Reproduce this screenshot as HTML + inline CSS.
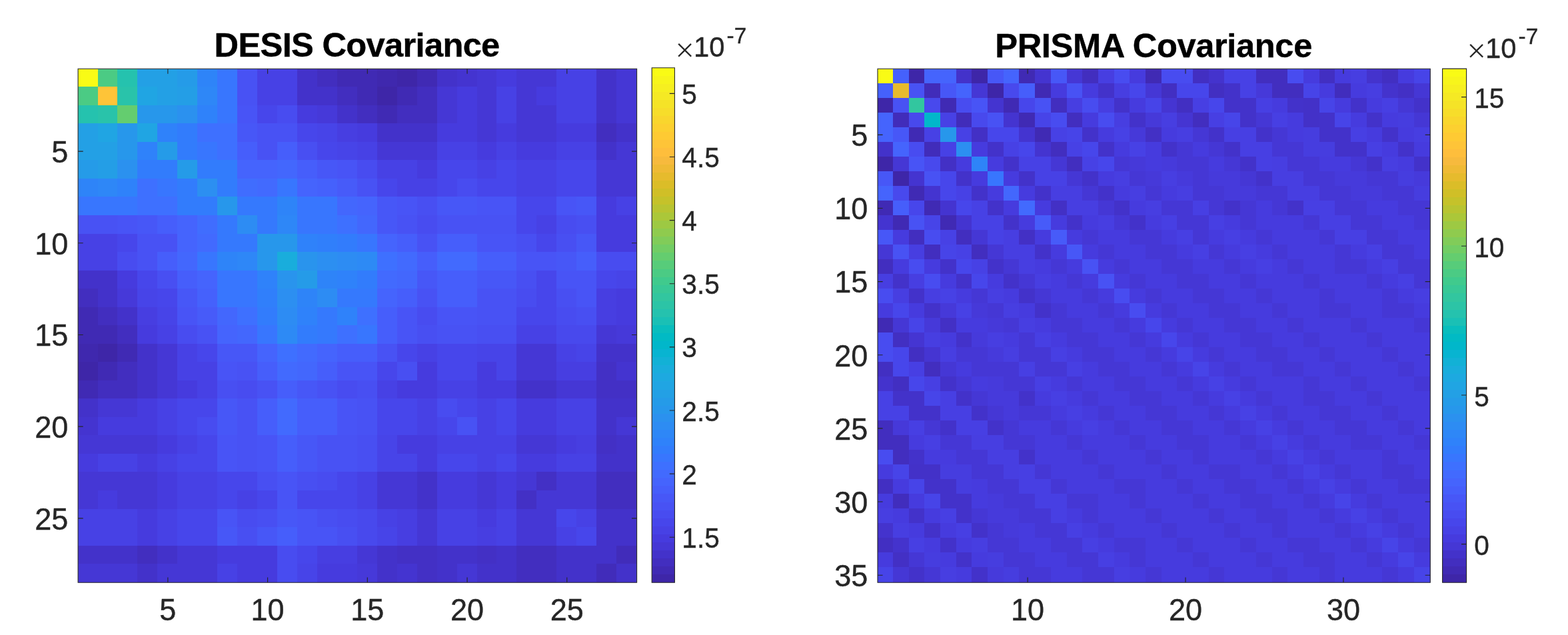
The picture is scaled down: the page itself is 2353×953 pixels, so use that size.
<!DOCTYPE html>
<html lang="en"><head><meta charset="utf-8"><title>Covariance</title>
<style>
html,body{margin:0;padding:0;background:#fff;}
body{width:2353px;height:953px;overflow:hidden;}
svg{display:block;}
text{font-family:"Liberation Sans",sans-serif;fill:#262626;stroke:#262626;stroke-width:0.4px;}
.t{font-size:46.4px;}
.c{font-size:41.8px;}
.x{font-size:50.16px;stroke:#fff;stroke-width:1.2px;}
.tt{font-size:50.7px;font-weight:bold;fill:#000;stroke:#000;}
.e{font-size:33.44px;}
.l{stroke:#262626;stroke-width:1.1;fill:none;}
</style></head><body>
<svg width="2353" height="953" viewBox="0 0 2353 953">
<g>
<rect x="117.1" y="103.2" width="29.9" height="26.8" fill="#f9fb15"/><rect x="147" y="103.2" width="29" height="26.8" fill="#4bcb84"/><rect x="176" y="103.2" width="30" height="26.8" fill="#25c2ae"/><rect x="206" y="103.2" width="60" height="26.8" fill="#23a0e5"/><rect x="266" y="103.2" width="30" height="26.8" fill="#259be8"/><rect x="296" y="103.2" width="30" height="26.8" fill="#2e84f8"/><rect x="326" y="103.2" width="30" height="26.8" fill="#3876fe"/><rect x="356" y="103.2" width="30" height="26.8" fill="#4852f4"/><rect x="386" y="103.2" width="60" height="26.8" fill="#4741e5"/><rect x="446" y="103.2" width="30" height="26.8" fill="#4332ca"/><rect x="476" y="103.2" width="30" height="26.8" fill="#422ebf"/><rect x="506" y="103.2" width="60" height="26.8" fill="#402ab4"/><rect x="566" y="103.2" width="30" height="26.8" fill="#3f28ae"/><rect x="596" y="103.2" width="30" height="26.8" fill="#3e26a8"/><rect x="626" y="103.2" width="30" height="26.8" fill="#402ab4"/><rect x="656" y="103.2" width="30" height="26.8" fill="#4332ca"/><rect x="686" y="103.2" width="30" height="26.8" fill="#4434d0"/><rect x="716" y="103.2" width="29" height="26.8" fill="#4537d5"/><rect x="745" y="103.2" width="30" height="26.8" fill="#463bde"/><rect x="775" y="103.2" width="60" height="26.8" fill="#4537d5"/><rect x="835" y="103.2" width="60" height="26.8" fill="#4741e5"/><rect x="895" y="103.2" width="30" height="26.8" fill="#4332ca"/><rect x="925" y="103.2" width="30.6" height="26.8" fill="#4537d5"/>
<rect x="117.1" y="130" width="29.9" height="28" fill="#4bcb84"/><rect x="147" y="130" width="29" height="28" fill="#fec438"/><rect x="176" y="130" width="30" height="28" fill="#29c3aa"/><rect x="206" y="130" width="30" height="28" fill="#20a5e3"/><rect x="236" y="130" width="30" height="28" fill="#23a0e5"/><rect x="266" y="130" width="30" height="28" fill="#249ee6"/><rect x="296" y="130" width="30" height="28" fill="#2e87f7"/><rect x="326" y="130" width="30" height="28" fill="#3876fe"/><rect x="356" y="130" width="30" height="28" fill="#4852f4"/><rect x="386" y="130" width="60" height="28" fill="#4741e5"/><rect x="446" y="130" width="60" height="28" fill="#4332ca"/><rect x="506" y="130" width="30" height="28" fill="#422ebf"/><rect x="536" y="130" width="30" height="28" fill="#402ab4"/><rect x="566" y="130" width="30" height="28" fill="#3e26a8"/><rect x="596" y="130" width="30" height="28" fill="#402ab4"/><rect x="626" y="130" width="30" height="28" fill="#422ebf"/><rect x="656" y="130" width="30" height="28" fill="#4537d5"/><rect x="686" y="130" width="30" height="28" fill="#463bde"/><rect x="716" y="130" width="29" height="28" fill="#4537d5"/><rect x="745" y="130" width="30" height="28" fill="#4741e5"/><rect x="775" y="130" width="30" height="28" fill="#4537d5"/><rect x="805" y="130" width="30" height="28" fill="#463bde"/><rect x="835" y="130" width="60" height="28" fill="#4741e5"/><rect x="895" y="130" width="30" height="28" fill="#4332ca"/><rect x="925" y="130" width="30.6" height="28" fill="#4537d5"/>
<rect x="117.1" y="158" width="29.9" height="27" fill="#25c2ae"/><rect x="147" y="158" width="29" height="27" fill="#29c3aa"/><rect x="176" y="158" width="30" height="27" fill="#64cd6f"/><rect x="206" y="158" width="60" height="27" fill="#2797eb"/><rect x="266" y="158" width="30" height="27" fill="#2b91ef"/><rect x="296" y="158" width="30" height="27" fill="#2f82fa"/><rect x="326" y="158" width="30" height="27" fill="#3876fe"/><rect x="356" y="158" width="30" height="27" fill="#4854f6"/><rect x="386" y="158" width="30" height="27" fill="#4746eb"/><rect x="416" y="158" width="30" height="27" fill="#484cf0"/><rect x="446" y="158" width="30" height="27" fill="#463bde"/><rect x="476" y="158" width="30" height="27" fill="#4639d9"/><rect x="506" y="158" width="30" height="27" fill="#4332ca"/><rect x="536" y="158" width="30" height="27" fill="#422ebf"/><rect x="566" y="158" width="30" height="27" fill="#402ab4"/><rect x="596" y="158" width="60" height="27" fill="#422ebf"/><rect x="656" y="158" width="30" height="27" fill="#4537d5"/><rect x="686" y="158" width="30" height="27" fill="#463bde"/><rect x="716" y="158" width="29" height="27" fill="#4537d5"/><rect x="745" y="158" width="30" height="27" fill="#4741e5"/><rect x="775" y="158" width="60" height="27" fill="#4537d5"/><rect x="835" y="158" width="60" height="27" fill="#4741e5"/><rect x="895" y="158" width="30" height="27" fill="#4332ca"/><rect x="925" y="158" width="30.6" height="27" fill="#4537d5"/>
<rect x="117.1" y="185" width="29.9" height="28" fill="#23a0e5"/><rect x="147" y="185" width="29" height="28" fill="#20a5e3"/><rect x="176" y="185" width="30" height="28" fill="#2797eb"/><rect x="206" y="185" width="30" height="28" fill="#20a5e3"/><rect x="236" y="185" width="30" height="28" fill="#2f82fa"/><rect x="266" y="185" width="30" height="28" fill="#327cfc"/><rect x="296" y="185" width="60" height="28" fill="#3e70ff"/><rect x="356" y="185" width="30" height="28" fill="#4757f7"/><rect x="386" y="185" width="60" height="28" fill="#4852f4"/><rect x="446" y="185" width="30" height="28" fill="#4746eb"/><rect x="476" y="185" width="30" height="28" fill="#4744e8"/><rect x="506" y="185" width="30" height="28" fill="#473ee1"/><rect x="536" y="185" width="30" height="28" fill="#463bde"/><rect x="566" y="185" width="90" height="28" fill="#4332ca"/><rect x="656" y="185" width="60" height="28" fill="#463bde"/><rect x="716" y="185" width="29" height="28" fill="#4537d5"/><rect x="745" y="185" width="30" height="28" fill="#463bde"/><rect x="775" y="185" width="60" height="28" fill="#4537d5"/><rect x="835" y="185" width="60" height="28" fill="#463bde"/><rect x="895" y="185" width="30" height="28" fill="#422ebf"/><rect x="925" y="185" width="30.6" height="28" fill="#4332ca"/>
<rect x="117.1" y="213" width="58.9" height="27" fill="#23a0e5"/><rect x="176" y="213" width="30" height="27" fill="#2797eb"/><rect x="206" y="213" width="30" height="27" fill="#2f82fa"/><rect x="236" y="213" width="30" height="27" fill="#259be8"/><rect x="266" y="213" width="30" height="27" fill="#327cfc"/><rect x="296" y="213" width="30" height="27" fill="#3876fe"/><rect x="326" y="213" width="30" height="27" fill="#3e70ff"/><rect x="356" y="213" width="30" height="27" fill="#465efb"/><rect x="386" y="213" width="30" height="27" fill="#4852f4"/><rect x="416" y="213" width="30" height="27" fill="#465efb"/><rect x="446" y="213" width="30" height="27" fill="#484ff2"/><rect x="476" y="213" width="30" height="27" fill="#4746eb"/><rect x="506" y="213" width="30" height="27" fill="#4744e8"/><rect x="536" y="213" width="30" height="27" fill="#4741e5"/><rect x="566" y="213" width="90" height="27" fill="#4537d5"/><rect x="656" y="213" width="60" height="27" fill="#4741e5"/><rect x="716" y="213" width="29" height="27" fill="#463bde"/><rect x="745" y="213" width="30" height="27" fill="#4741e5"/><rect x="775" y="213" width="60" height="27" fill="#463bde"/><rect x="835" y="213" width="60" height="27" fill="#4741e5"/><rect x="895" y="213" width="30" height="27" fill="#4332ca"/><rect x="925" y="213" width="30.6" height="27" fill="#4537d5"/>
<rect x="117.1" y="240" width="29.9" height="28" fill="#259be8"/><rect x="147" y="240" width="29" height="28" fill="#249ee6"/><rect x="176" y="240" width="30" height="28" fill="#2b91ef"/><rect x="206" y="240" width="60" height="28" fill="#327cfc"/><rect x="266" y="240" width="30" height="28" fill="#259be8"/><rect x="296" y="240" width="60" height="28" fill="#327cfc"/><rect x="356" y="240" width="60" height="28" fill="#4564fd"/><rect x="416" y="240" width="30" height="28" fill="#4367fd"/><rect x="446" y="240" width="30" height="28" fill="#465efb"/><rect x="476" y="240" width="30" height="28" fill="#4757f7"/><rect x="506" y="240" width="30" height="28" fill="#4854f6"/><rect x="536" y="240" width="30" height="28" fill="#484cf0"/><rect x="566" y="240" width="60" height="28" fill="#4741e5"/><rect x="626" y="240" width="30" height="28" fill="#463bde"/><rect x="656" y="240" width="60" height="28" fill="#4746eb"/><rect x="716" y="240" width="29" height="28" fill="#4741e5"/><rect x="745" y="240" width="30" height="28" fill="#4746eb"/><rect x="775" y="240" width="60" height="28" fill="#4741e5"/><rect x="835" y="240" width="60" height="28" fill="#4746eb"/><rect x="895" y="240" width="60.6" height="28" fill="#4537d5"/>
<rect x="117.1" y="268" width="29.9" height="27" fill="#2e84f8"/><rect x="147" y="268" width="29" height="27" fill="#2e87f7"/><rect x="176" y="268" width="30" height="27" fill="#2f82fa"/><rect x="206" y="268" width="30" height="27" fill="#3e70ff"/><rect x="236" y="268" width="30" height="27" fill="#3876fe"/><rect x="266" y="268" width="30" height="27" fill="#327cfc"/><rect x="296" y="268" width="30" height="27" fill="#2c8ff1"/><rect x="326" y="268" width="30" height="27" fill="#327cfc"/><rect x="356" y="268" width="30" height="27" fill="#406dfe"/><rect x="386" y="268" width="30" height="27" fill="#426afe"/><rect x="416" y="268" width="30" height="27" fill="#3876fe"/><rect x="446" y="268" width="30" height="27" fill="#4564fd"/><rect x="476" y="268" width="30" height="27" fill="#4561fc"/><rect x="506" y="268" width="30" height="27" fill="#475bf9"/><rect x="536" y="268" width="30" height="27" fill="#4852f4"/><rect x="566" y="268" width="30" height="27" fill="#4746eb"/><rect x="596" y="268" width="60" height="27" fill="#4741e5"/><rect x="656" y="268" width="30" height="27" fill="#4746eb"/><rect x="686" y="268" width="30" height="27" fill="#484cf0"/><rect x="716" y="268" width="59" height="27" fill="#4746eb"/><rect x="775" y="268" width="60" height="27" fill="#4741e5"/><rect x="835" y="268" width="60" height="27" fill="#4746eb"/><rect x="895" y="268" width="60.6" height="27" fill="#4537d5"/>
<rect x="117.1" y="295" width="88.9" height="28" fill="#3876fe"/><rect x="206" y="295" width="60" height="28" fill="#3e70ff"/><rect x="266" y="295" width="60" height="28" fill="#327cfc"/><rect x="326" y="295" width="30" height="28" fill="#2797eb"/><rect x="356" y="295" width="60" height="28" fill="#3579fd"/><rect x="416" y="295" width="30" height="28" fill="#2e84f8"/><rect x="446" y="295" width="60" height="28" fill="#3876fe"/><rect x="506" y="295" width="30" height="28" fill="#4367fd"/><rect x="536" y="295" width="30" height="28" fill="#4564fd"/><rect x="566" y="295" width="30" height="28" fill="#4757f7"/><rect x="596" y="295" width="30" height="28" fill="#4854f6"/><rect x="626" y="295" width="30" height="28" fill="#484ff2"/><rect x="656" y="295" width="60" height="28" fill="#4757f7"/><rect x="716" y="295" width="59" height="28" fill="#4854f6"/><rect x="775" y="295" width="60" height="28" fill="#4746eb"/><rect x="835" y="295" width="30" height="28" fill="#4854f6"/><rect x="865" y="295" width="30" height="28" fill="#4757f7"/><rect x="895" y="295" width="30" height="28" fill="#463bde"/><rect x="925" y="295" width="30.6" height="28" fill="#4741e5"/>
<rect x="117.1" y="323" width="58.9" height="28" fill="#4852f4"/><rect x="176" y="323" width="30" height="28" fill="#4854f6"/><rect x="206" y="323" width="30" height="28" fill="#4757f7"/><rect x="236" y="323" width="30" height="28" fill="#465efb"/><rect x="266" y="323" width="30" height="28" fill="#4564fd"/><rect x="296" y="323" width="30" height="28" fill="#406dfe"/><rect x="326" y="323" width="30" height="28" fill="#3579fd"/><rect x="356" y="323" width="30" height="28" fill="#2d8cf3"/><rect x="386" y="323" width="30" height="28" fill="#3579fd"/><rect x="416" y="323" width="30" height="28" fill="#2e87f7"/><rect x="446" y="323" width="60" height="28" fill="#3876fe"/><rect x="506" y="323" width="30" height="28" fill="#3e70ff"/><rect x="536" y="323" width="30" height="28" fill="#4367fd"/><rect x="566" y="323" width="30" height="28" fill="#4757f7"/><rect x="596" y="323" width="30" height="28" fill="#4852f4"/><rect x="626" y="323" width="30" height="28" fill="#484cf0"/><rect x="656" y="323" width="119" height="28" fill="#4852f4"/><rect x="775" y="323" width="30" height="28" fill="#4746eb"/><rect x="805" y="323" width="30" height="28" fill="#4741e5"/><rect x="835" y="323" width="30" height="28" fill="#484cf0"/><rect x="865" y="323" width="30" height="28" fill="#484ff2"/><rect x="895" y="323" width="60.6" height="28" fill="#463bde"/>
<rect x="117.1" y="351" width="58.9" height="27" fill="#4741e5"/><rect x="176" y="351" width="30" height="27" fill="#4746eb"/><rect x="206" y="351" width="60" height="27" fill="#4852f4"/><rect x="266" y="351" width="30" height="27" fill="#4564fd"/><rect x="296" y="351" width="30" height="27" fill="#426afe"/><rect x="326" y="351" width="60" height="27" fill="#3579fd"/><rect x="386" y="351" width="60" height="27" fill="#2797eb"/><rect x="446" y="351" width="30" height="27" fill="#2f82fa"/><rect x="476" y="351" width="30" height="27" fill="#307ffb"/><rect x="506" y="351" width="30" height="27" fill="#327cfc"/><rect x="536" y="351" width="30" height="27" fill="#3876fe"/><rect x="566" y="351" width="30" height="27" fill="#4564fd"/><rect x="596" y="351" width="30" height="27" fill="#465efb"/><rect x="626" y="351" width="30" height="27" fill="#4852f4"/><rect x="656" y="351" width="60" height="27" fill="#465efb"/><rect x="716" y="351" width="59" height="27" fill="#4854f6"/><rect x="775" y="351" width="30" height="27" fill="#484ff2"/><rect x="805" y="351" width="30" height="27" fill="#4746eb"/><rect x="835" y="351" width="30" height="27" fill="#484ff2"/><rect x="865" y="351" width="30" height="27" fill="#4757f7"/><rect x="895" y="351" width="60.6" height="27" fill="#463bde"/>
<rect x="117.1" y="378" width="58.9" height="28" fill="#4741e5"/><rect x="176" y="378" width="30" height="28" fill="#484cf0"/><rect x="206" y="378" width="30" height="28" fill="#4852f4"/><rect x="236" y="378" width="30" height="28" fill="#465efb"/><rect x="266" y="378" width="30" height="28" fill="#4367fd"/><rect x="296" y="378" width="30" height="28" fill="#3876fe"/><rect x="326" y="378" width="30" height="28" fill="#2e84f8"/><rect x="356" y="378" width="30" height="28" fill="#2e87f7"/><rect x="386" y="378" width="30" height="28" fill="#2797eb"/><rect x="416" y="378" width="30" height="28" fill="#19addc"/><rect x="446" y="378" width="30" height="28" fill="#2994ed"/><rect x="476" y="378" width="30" height="28" fill="#2c8ff1"/><rect x="506" y="378" width="30" height="28" fill="#2d8cf3"/><rect x="536" y="378" width="30" height="28" fill="#2d8af5"/><rect x="566" y="378" width="30" height="28" fill="#3e70ff"/><rect x="596" y="378" width="30" height="28" fill="#426afe"/><rect x="626" y="378" width="30" height="28" fill="#465efb"/><rect x="656" y="378" width="60" height="28" fill="#426afe"/><rect x="716" y="378" width="59" height="28" fill="#465efb"/><rect x="775" y="378" width="60" height="28" fill="#4854f6"/><rect x="835" y="378" width="30" height="28" fill="#4757f7"/><rect x="865" y="378" width="30" height="28" fill="#465efb"/><rect x="895" y="378" width="60.6" height="28" fill="#484cf0"/>
<rect x="117.1" y="406" width="58.9" height="27" fill="#4332ca"/><rect x="176" y="406" width="30" height="27" fill="#463bde"/><rect x="206" y="406" width="30" height="27" fill="#4746eb"/><rect x="236" y="406" width="30" height="27" fill="#484ff2"/><rect x="266" y="406" width="30" height="27" fill="#465efb"/><rect x="296" y="406" width="30" height="27" fill="#4564fd"/><rect x="326" y="406" width="60" height="27" fill="#3876fe"/><rect x="386" y="406" width="30" height="27" fill="#2f82fa"/><rect x="416" y="406" width="30" height="27" fill="#2994ed"/><rect x="446" y="406" width="30" height="27" fill="#259be8"/><rect x="476" y="406" width="30" height="27" fill="#2e84f8"/><rect x="506" y="406" width="30" height="27" fill="#2f82fa"/><rect x="536" y="406" width="30" height="27" fill="#327cfc"/><rect x="566" y="406" width="30" height="27" fill="#426afe"/><rect x="596" y="406" width="30" height="27" fill="#4367fd"/><rect x="626" y="406" width="30" height="27" fill="#4757f7"/><rect x="656" y="406" width="60" height="27" fill="#465efb"/><rect x="716" y="406" width="59" height="27" fill="#4757f7"/><rect x="775" y="406" width="30" height="27" fill="#484ff2"/><rect x="805" y="406" width="30" height="27" fill="#4746eb"/><rect x="835" y="406" width="60" height="27" fill="#4854f6"/><rect x="895" y="406" width="30" height="27" fill="#4746eb"/><rect x="925" y="406" width="30.6" height="27" fill="#4744e8"/>
<rect x="117.1" y="433" width="29.9" height="28" fill="#422ebf"/><rect x="147" y="433" width="29" height="28" fill="#4332ca"/><rect x="176" y="433" width="30" height="28" fill="#4639d9"/><rect x="206" y="433" width="30" height="28" fill="#4744e8"/><rect x="236" y="433" width="30" height="28" fill="#4746eb"/><rect x="266" y="433" width="30" height="28" fill="#4757f7"/><rect x="296" y="433" width="30" height="28" fill="#4561fc"/><rect x="326" y="433" width="60" height="28" fill="#3876fe"/><rect x="386" y="433" width="30" height="28" fill="#307ffb"/><rect x="416" y="433" width="30" height="28" fill="#2c8ff1"/><rect x="446" y="433" width="30" height="28" fill="#2e84f8"/><rect x="476" y="433" width="30" height="28" fill="#2d8cf3"/><rect x="506" y="433" width="60" height="28" fill="#3579fd"/><rect x="566" y="433" width="30" height="28" fill="#4564fd"/><rect x="596" y="433" width="30" height="28" fill="#465efb"/><rect x="626" y="433" width="30" height="28" fill="#4852f4"/><rect x="656" y="433" width="60" height="28" fill="#465efb"/><rect x="716" y="433" width="59" height="28" fill="#4852f4"/><rect x="775" y="433" width="30" height="28" fill="#484cf0"/><rect x="805" y="433" width="30" height="28" fill="#4746eb"/><rect x="835" y="433" width="30" height="28" fill="#484ff2"/><rect x="865" y="433" width="30" height="28" fill="#4854f6"/><rect x="895" y="433" width="30" height="28" fill="#473ee1"/><rect x="925" y="433" width="30.6" height="28" fill="#463bde"/>
<rect x="117.1" y="461" width="29.9" height="27" fill="#402ab4"/><rect x="147" y="461" width="29" height="27" fill="#422ebf"/><rect x="176" y="461" width="30" height="27" fill="#4332ca"/><rect x="206" y="461" width="30" height="27" fill="#473ee1"/><rect x="236" y="461" width="30" height="27" fill="#4744e8"/><rect x="266" y="461" width="30" height="27" fill="#4854f6"/><rect x="296" y="461" width="30" height="27" fill="#475bf9"/><rect x="326" y="461" width="30" height="27" fill="#4367fd"/><rect x="356" y="461" width="30" height="27" fill="#3e70ff"/><rect x="386" y="461" width="30" height="27" fill="#327cfc"/><rect x="416" y="461" width="30" height="27" fill="#2d8cf3"/><rect x="446" y="461" width="30" height="27" fill="#2f82fa"/><rect x="476" y="461" width="30" height="27" fill="#3579fd"/><rect x="506" y="461" width="30" height="27" fill="#2f82fa"/><rect x="536" y="461" width="30" height="27" fill="#3e70ff"/><rect x="566" y="461" width="30" height="27" fill="#465efb"/><rect x="596" y="461" width="30" height="27" fill="#4854f6"/><rect x="626" y="461" width="30" height="27" fill="#484cf0"/><rect x="656" y="461" width="60" height="27" fill="#4854f6"/><rect x="716" y="461" width="59" height="27" fill="#4852f4"/><rect x="775" y="461" width="60" height="27" fill="#4746eb"/><rect x="835" y="461" width="30" height="27" fill="#484cf0"/><rect x="865" y="461" width="30" height="27" fill="#484ff2"/><rect x="895" y="461" width="30" height="27" fill="#473ee1"/><rect x="925" y="461" width="30.6" height="27" fill="#463bde"/>
<rect x="117.1" y="488" width="58.9" height="28" fill="#402ab4"/><rect x="176" y="488" width="30" height="28" fill="#422ebf"/><rect x="206" y="488" width="30" height="28" fill="#463bde"/><rect x="236" y="488" width="30" height="28" fill="#4741e5"/><rect x="266" y="488" width="30" height="28" fill="#484cf0"/><rect x="296" y="488" width="30" height="28" fill="#4852f4"/><rect x="326" y="488" width="30" height="28" fill="#4564fd"/><rect x="356" y="488" width="30" height="28" fill="#4367fd"/><rect x="386" y="488" width="30" height="28" fill="#3876fe"/><rect x="416" y="488" width="30" height="28" fill="#2d8af5"/><rect x="446" y="488" width="30" height="28" fill="#327cfc"/><rect x="476" y="488" width="30" height="28" fill="#3579fd"/><rect x="506" y="488" width="30" height="28" fill="#3e70ff"/><rect x="536" y="488" width="30" height="28" fill="#3876fe"/><rect x="566" y="488" width="30" height="28" fill="#465efb"/><rect x="596" y="488" width="30" height="28" fill="#4854f6"/><rect x="626" y="488" width="30" height="28" fill="#484ff2"/><rect x="656" y="488" width="60" height="28" fill="#4852f4"/><rect x="716" y="488" width="59" height="28" fill="#484ff2"/><rect x="775" y="488" width="60" height="28" fill="#4741e5"/><rect x="835" y="488" width="60" height="28" fill="#4849ed"/><rect x="895" y="488" width="30" height="28" fill="#4537d5"/><rect x="925" y="488" width="30.6" height="28" fill="#4639d9"/>
<rect x="117.1" y="516" width="29.9" height="27" fill="#3f28ae"/><rect x="147" y="516" width="29" height="27" fill="#3e26a8"/><rect x="176" y="516" width="30" height="27" fill="#402ab4"/><rect x="206" y="516" width="30" height="27" fill="#4332ca"/><rect x="236" y="516" width="30" height="27" fill="#4537d5"/><rect x="266" y="516" width="30" height="27" fill="#4741e5"/><rect x="296" y="516" width="30" height="27" fill="#4746eb"/><rect x="326" y="516" width="60" height="27" fill="#4757f7"/><rect x="386" y="516" width="30" height="27" fill="#4564fd"/><rect x="416" y="516" width="30" height="27" fill="#3e70ff"/><rect x="446" y="516" width="30" height="27" fill="#426afe"/><rect x="476" y="516" width="30" height="27" fill="#4564fd"/><rect x="506" y="516" width="60" height="27" fill="#465efb"/><rect x="566" y="516" width="30" height="27" fill="#4852f4"/><rect x="596" y="516" width="30" height="27" fill="#4746eb"/><rect x="626" y="516" width="30" height="27" fill="#4741e5"/><rect x="656" y="516" width="60" height="27" fill="#4746eb"/><rect x="716" y="516" width="59" height="27" fill="#4744e8"/><rect x="775" y="516" width="60" height="27" fill="#4537d5"/><rect x="835" y="516" width="30" height="27" fill="#4741e5"/><rect x="865" y="516" width="30" height="27" fill="#4744e8"/><rect x="895" y="516" width="60.6" height="27" fill="#4332ca"/>
<rect x="117.1" y="543" width="29.9" height="28" fill="#3e26a8"/><rect x="147" y="543" width="29" height="28" fill="#402ab4"/><rect x="176" y="543" width="30" height="28" fill="#422ebf"/><rect x="206" y="543" width="30" height="28" fill="#4332ca"/><rect x="236" y="543" width="30" height="28" fill="#4537d5"/><rect x="266" y="543" width="60" height="28" fill="#4741e5"/><rect x="326" y="543" width="30" height="28" fill="#4854f6"/><rect x="356" y="543" width="30" height="28" fill="#4852f4"/><rect x="386" y="543" width="30" height="28" fill="#465efb"/><rect x="416" y="543" width="30" height="28" fill="#426afe"/><rect x="446" y="543" width="30" height="28" fill="#4367fd"/><rect x="476" y="543" width="30" height="28" fill="#465efb"/><rect x="506" y="543" width="60" height="28" fill="#4854f6"/><rect x="566" y="543" width="30" height="28" fill="#4746eb"/><rect x="596" y="543" width="30" height="28" fill="#484ff2"/><rect x="626" y="543" width="30" height="28" fill="#463bde"/><rect x="656" y="543" width="60" height="28" fill="#4746eb"/><rect x="716" y="543" width="29" height="28" fill="#463bde"/><rect x="745" y="543" width="30" height="28" fill="#4744e8"/><rect x="775" y="543" width="60" height="28" fill="#4537d5"/><rect x="835" y="543" width="60" height="28" fill="#473ee1"/><rect x="895" y="543" width="30" height="28" fill="#4330c5"/><rect x="925" y="543" width="30.6" height="28" fill="#4434d0"/>
<rect x="117.1" y="571" width="29.9" height="27" fill="#402ab4"/><rect x="147" y="571" width="59" height="27" fill="#422ebf"/><rect x="206" y="571" width="30" height="27" fill="#4332ca"/><rect x="236" y="571" width="30" height="27" fill="#4537d5"/><rect x="266" y="571" width="30" height="27" fill="#463bde"/><rect x="296" y="571" width="30" height="27" fill="#4741e5"/><rect x="326" y="571" width="30" height="27" fill="#484ff2"/><rect x="356" y="571" width="30" height="27" fill="#484cf0"/><rect x="386" y="571" width="30" height="27" fill="#4852f4"/><rect x="416" y="571" width="30" height="27" fill="#465efb"/><rect x="446" y="571" width="30" height="27" fill="#4757f7"/><rect x="476" y="571" width="30" height="27" fill="#4852f4"/><rect x="506" y="571" width="30" height="27" fill="#484cf0"/><rect x="536" y="571" width="30" height="27" fill="#484ff2"/><rect x="566" y="571" width="30" height="27" fill="#4741e5"/><rect x="596" y="571" width="60" height="27" fill="#463bde"/><rect x="656" y="571" width="60" height="27" fill="#4741e5"/><rect x="716" y="571" width="59" height="27" fill="#463bde"/><rect x="775" y="571" width="60" height="27" fill="#4332ca"/><rect x="835" y="571" width="60" height="27" fill="#4537d5"/><rect x="895" y="571" width="60.6" height="27" fill="#4330c5"/>
<rect x="117.1" y="598" width="29.9" height="28" fill="#4332ca"/><rect x="147" y="598" width="59" height="28" fill="#4537d5"/><rect x="206" y="598" width="30" height="28" fill="#463bde"/><rect x="236" y="598" width="30" height="28" fill="#4741e5"/><rect x="266" y="598" width="60" height="28" fill="#4746eb"/><rect x="326" y="598" width="30" height="28" fill="#4757f7"/><rect x="356" y="598" width="30" height="28" fill="#4852f4"/><rect x="386" y="598" width="30" height="28" fill="#465efb"/><rect x="416" y="598" width="30" height="28" fill="#426afe"/><rect x="446" y="598" width="60" height="28" fill="#465efb"/><rect x="506" y="598" width="30" height="28" fill="#4854f6"/><rect x="536" y="598" width="30" height="28" fill="#4852f4"/><rect x="566" y="598" width="60" height="28" fill="#4746eb"/><rect x="626" y="598" width="30" height="28" fill="#4741e5"/><rect x="656" y="598" width="30" height="28" fill="#484cf0"/><rect x="686" y="598" width="30" height="28" fill="#4746eb"/><rect x="716" y="598" width="29" height="28" fill="#4741e5"/><rect x="745" y="598" width="30" height="28" fill="#4746eb"/><rect x="775" y="598" width="60" height="28" fill="#463bde"/><rect x="835" y="598" width="60" height="28" fill="#4741e5"/><rect x="895" y="598" width="60.6" height="28" fill="#4332ca"/>
<rect x="117.1" y="626" width="29.9" height="27" fill="#4434d0"/><rect x="147" y="626" width="89" height="27" fill="#463bde"/><rect x="236" y="626" width="30" height="27" fill="#4741e5"/><rect x="266" y="626" width="30" height="27" fill="#4746eb"/><rect x="296" y="626" width="30" height="27" fill="#484cf0"/><rect x="326" y="626" width="30" height="27" fill="#4757f7"/><rect x="356" y="626" width="30" height="27" fill="#4852f4"/><rect x="386" y="626" width="30" height="27" fill="#465efb"/><rect x="416" y="626" width="30" height="27" fill="#426afe"/><rect x="446" y="626" width="60" height="27" fill="#465efb"/><rect x="506" y="626" width="30" height="27" fill="#4854f6"/><rect x="536" y="626" width="30" height="27" fill="#4852f4"/><rect x="566" y="626" width="60" height="27" fill="#4746eb"/><rect x="626" y="626" width="30" height="27" fill="#4741e5"/><rect x="656" y="626" width="30" height="27" fill="#4746eb"/><rect x="686" y="626" width="30" height="27" fill="#4852f4"/><rect x="716" y="626" width="29" height="27" fill="#4741e5"/><rect x="745" y="626" width="30" height="27" fill="#4746eb"/><rect x="775" y="626" width="60" height="27" fill="#463bde"/><rect x="835" y="626" width="60" height="27" fill="#4741e5"/><rect x="895" y="626" width="30" height="27" fill="#4332ca"/><rect x="925" y="626" width="30.6" height="27" fill="#4537d5"/>
<rect x="117.1" y="653" width="118.9" height="28" fill="#4537d5"/><rect x="236" y="653" width="30" height="28" fill="#463bde"/><rect x="266" y="653" width="30" height="28" fill="#4741e5"/><rect x="296" y="653" width="30" height="28" fill="#4746eb"/><rect x="326" y="653" width="30" height="28" fill="#4854f6"/><rect x="356" y="653" width="30" height="28" fill="#4852f4"/><rect x="386" y="653" width="30" height="28" fill="#4854f6"/><rect x="416" y="653" width="30" height="28" fill="#465efb"/><rect x="446" y="653" width="30" height="28" fill="#4757f7"/><rect x="476" y="653" width="60" height="28" fill="#4852f4"/><rect x="536" y="653" width="30" height="28" fill="#484ff2"/><rect x="566" y="653" width="30" height="28" fill="#4744e8"/><rect x="596" y="653" width="60" height="28" fill="#463bde"/><rect x="656" y="653" width="119" height="28" fill="#4741e5"/><rect x="775" y="653" width="60" height="28" fill="#4537d5"/><rect x="835" y="653" width="30" height="28" fill="#463bde"/><rect x="865" y="653" width="30" height="28" fill="#473ee1"/><rect x="895" y="653" width="30" height="28" fill="#4330c5"/><rect x="925" y="653" width="30.6" height="28" fill="#4332ca"/>
<rect x="117.1" y="681" width="29.9" height="27" fill="#463bde"/><rect x="147" y="681" width="59" height="27" fill="#4741e5"/><rect x="206" y="681" width="30" height="27" fill="#463bde"/><rect x="236" y="681" width="30" height="27" fill="#4741e5"/><rect x="266" y="681" width="60" height="27" fill="#4746eb"/><rect x="326" y="681" width="30" height="27" fill="#4854f6"/><rect x="356" y="681" width="30" height="27" fill="#4852f4"/><rect x="386" y="681" width="30" height="27" fill="#4854f6"/><rect x="416" y="681" width="30" height="27" fill="#465efb"/><rect x="446" y="681" width="30" height="27" fill="#4757f7"/><rect x="476" y="681" width="60" height="27" fill="#4852f4"/><rect x="536" y="681" width="30" height="27" fill="#484ff2"/><rect x="566" y="681" width="60" height="27" fill="#4744e8"/><rect x="626" y="681" width="30" height="27" fill="#463bde"/><rect x="656" y="681" width="60" height="27" fill="#4746eb"/><rect x="716" y="681" width="29" height="27" fill="#4741e5"/><rect x="745" y="681" width="30" height="27" fill="#4746eb"/><rect x="775" y="681" width="60" height="27" fill="#463bde"/><rect x="835" y="681" width="60" height="27" fill="#4741e5"/><rect x="895" y="681" width="60.6" height="27" fill="#4332ca"/>
<rect x="117.1" y="708" width="118.9" height="28" fill="#4537d5"/><rect x="236" y="708" width="30" height="28" fill="#463bde"/><rect x="266" y="708" width="60" height="28" fill="#4741e5"/><rect x="326" y="708" width="60" height="28" fill="#4746eb"/><rect x="386" y="708" width="30" height="28" fill="#484ff2"/><rect x="416" y="708" width="30" height="28" fill="#4854f6"/><rect x="446" y="708" width="30" height="28" fill="#484ff2"/><rect x="476" y="708" width="30" height="28" fill="#484cf0"/><rect x="506" y="708" width="30" height="28" fill="#4746eb"/><rect x="536" y="708" width="30" height="28" fill="#4741e5"/><rect x="566" y="708" width="60" height="28" fill="#4537d5"/><rect x="626" y="708" width="30" height="28" fill="#4332ca"/><rect x="656" y="708" width="60" height="28" fill="#463bde"/><rect x="716" y="708" width="29" height="28" fill="#4537d5"/><rect x="745" y="708" width="30" height="28" fill="#463bde"/><rect x="775" y="708" width="30" height="28" fill="#4537d5"/><rect x="805" y="708" width="30" height="28" fill="#4330c5"/><rect x="835" y="708" width="60" height="28" fill="#4537d5"/><rect x="895" y="708" width="60.6" height="28" fill="#422ebf"/>
<rect x="117.1" y="736" width="29.9" height="28" fill="#4537d5"/><rect x="147" y="736" width="29" height="28" fill="#463bde"/><rect x="176" y="736" width="60" height="28" fill="#4537d5"/><rect x="236" y="736" width="30" height="28" fill="#463bde"/><rect x="266" y="736" width="60" height="28" fill="#4741e5"/><rect x="326" y="736" width="30" height="28" fill="#4746eb"/><rect x="356" y="736" width="30" height="28" fill="#4741e5"/><rect x="386" y="736" width="30" height="28" fill="#4746eb"/><rect x="416" y="736" width="30" height="28" fill="#4854f6"/><rect x="446" y="736" width="90" height="28" fill="#4746eb"/><rect x="536" y="736" width="30" height="28" fill="#4741e5"/><rect x="566" y="736" width="60" height="28" fill="#4537d5"/><rect x="626" y="736" width="30" height="28" fill="#4332ca"/><rect x="656" y="736" width="60" height="28" fill="#463bde"/><rect x="716" y="736" width="29" height="28" fill="#4537d5"/><rect x="745" y="736" width="30" height="28" fill="#463bde"/><rect x="775" y="736" width="30" height="28" fill="#4330c5"/><rect x="805" y="736" width="90" height="28" fill="#4537d5"/><rect x="895" y="736" width="60.6" height="28" fill="#422ebf"/>
<rect x="117.1" y="764" width="88.9" height="27" fill="#4741e5"/><rect x="206" y="764" width="30" height="27" fill="#463bde"/><rect x="236" y="764" width="30" height="27" fill="#4741e5"/><rect x="266" y="764" width="60" height="27" fill="#4746eb"/><rect x="326" y="764" width="30" height="27" fill="#4854f6"/><rect x="356" y="764" width="30" height="27" fill="#484cf0"/><rect x="386" y="764" width="30" height="27" fill="#484ff2"/><rect x="416" y="764" width="30" height="27" fill="#4757f7"/><rect x="446" y="764" width="30" height="27" fill="#4854f6"/><rect x="476" y="764" width="30" height="27" fill="#484ff2"/><rect x="506" y="764" width="30" height="27" fill="#484cf0"/><rect x="536" y="764" width="30" height="27" fill="#4849ed"/><rect x="566" y="764" width="30" height="27" fill="#4741e5"/><rect x="596" y="764" width="30" height="27" fill="#473ee1"/><rect x="626" y="764" width="30" height="27" fill="#4537d5"/><rect x="656" y="764" width="60" height="27" fill="#4741e5"/><rect x="716" y="764" width="29" height="27" fill="#463bde"/><rect x="745" y="764" width="30" height="27" fill="#4741e5"/><rect x="775" y="764" width="60" height="27" fill="#4537d5"/><rect x="835" y="764" width="30" height="27" fill="#4746eb"/><rect x="865" y="764" width="30" height="27" fill="#4741e5"/><rect x="895" y="764" width="60.6" height="27" fill="#4332ca"/>
<rect x="117.1" y="791" width="88.9" height="28" fill="#4741e5"/><rect x="206" y="791" width="30" height="28" fill="#463bde"/><rect x="236" y="791" width="30" height="28" fill="#4741e5"/><rect x="266" y="791" width="60" height="28" fill="#4746eb"/><rect x="326" y="791" width="30" height="28" fill="#4757f7"/><rect x="356" y="791" width="30" height="28" fill="#484ff2"/><rect x="386" y="791" width="30" height="28" fill="#4757f7"/><rect x="416" y="791" width="30" height="28" fill="#465efb"/><rect x="446" y="791" width="60" height="28" fill="#4854f6"/><rect x="506" y="791" width="30" height="28" fill="#484ff2"/><rect x="536" y="791" width="30" height="28" fill="#4849ed"/><rect x="566" y="791" width="30" height="28" fill="#4744e8"/><rect x="596" y="791" width="30" height="28" fill="#473ee1"/><rect x="626" y="791" width="30" height="28" fill="#4537d5"/><rect x="656" y="791" width="60" height="28" fill="#4741e5"/><rect x="716" y="791" width="29" height="28" fill="#473ee1"/><rect x="745" y="791" width="30" height="28" fill="#4741e5"/><rect x="775" y="791" width="60" height="28" fill="#4537d5"/><rect x="835" y="791" width="30" height="28" fill="#4741e5"/><rect x="865" y="791" width="30" height="28" fill="#4746eb"/><rect x="895" y="791" width="60.6" height="28" fill="#4332ca"/>
<rect x="117.1" y="819" width="88.9" height="27" fill="#4332ca"/><rect x="206" y="819" width="30" height="27" fill="#422ebf"/><rect x="236" y="819" width="30" height="27" fill="#4332ca"/><rect x="266" y="819" width="60" height="27" fill="#4537d5"/><rect x="326" y="819" width="90" height="27" fill="#463bde"/><rect x="416" y="819" width="30" height="27" fill="#484cf0"/><rect x="446" y="819" width="30" height="27" fill="#4746eb"/><rect x="476" y="819" width="60" height="27" fill="#473ee1"/><rect x="536" y="819" width="30" height="27" fill="#4537d5"/><rect x="566" y="819" width="30" height="27" fill="#4332ca"/><rect x="596" y="819" width="60" height="27" fill="#4330c5"/><rect x="656" y="819" width="60" height="27" fill="#4332ca"/><rect x="716" y="819" width="29" height="27" fill="#4330c5"/><rect x="745" y="819" width="30" height="27" fill="#4332ca"/><rect x="775" y="819" width="60" height="27" fill="#422ebf"/><rect x="835" y="819" width="90" height="27" fill="#4332ca"/><rect x="925" y="819" width="30.6" height="27" fill="#412cba"/>
<rect x="117.1" y="846" width="88.9" height="28.2" fill="#4537d5"/><rect x="206" y="846" width="30" height="28.2" fill="#4332ca"/><rect x="236" y="846" width="90" height="28.2" fill="#4537d5"/><rect x="326" y="846" width="30" height="28.2" fill="#4741e5"/><rect x="356" y="846" width="60" height="28.2" fill="#463bde"/><rect x="416" y="846" width="30" height="28.2" fill="#484cf0"/><rect x="446" y="846" width="30" height="28.2" fill="#4744e8"/><rect x="476" y="846" width="60" height="28.2" fill="#463bde"/><rect x="536" y="846" width="30" height="28.2" fill="#4639d9"/><rect x="566" y="846" width="30" height="28.2" fill="#4332ca"/><rect x="596" y="846" width="30" height="28.2" fill="#4434d0"/><rect x="626" y="846" width="30" height="28.2" fill="#4330c5"/><rect x="656" y="846" width="30" height="28.2" fill="#4332ca"/><rect x="686" y="846" width="30" height="28.2" fill="#4537d5"/><rect x="716" y="846" width="59" height="28.2" fill="#4332ca"/><rect x="775" y="846" width="60" height="28.2" fill="#422ebf"/><rect x="835" y="846" width="60" height="28.2" fill="#4332ca"/><rect x="895" y="846" width="30" height="28.2" fill="#412cba"/><rect x="925" y="846" width="30.6" height="28.2" fill="#4332ca"/>
</g>
<g>
<rect x="978.2" y="101.8" width="34.2" height="12.2" fill="#f9fb15"/><rect x="978.2" y="114" width="34.2" height="12" fill="#f7f51b"/><rect x="978.2" y="126" width="34.2" height="12" fill="#f6ef20"/><rect x="978.2" y="138" width="34.2" height="12" fill="#f5e924"/><rect x="978.2" y="150" width="34.2" height="12" fill="#f5e327"/><rect x="978.2" y="162" width="34.2" height="12" fill="#f7dd2a"/><rect x="978.2" y="174" width="34.2" height="12" fill="#f9d62d"/><rect x="978.2" y="186" width="34.2" height="12" fill="#fcd030"/><rect x="978.2" y="198" width="34.2" height="12" fill="#feca33"/><rect x="978.2" y="210" width="34.2" height="12" fill="#fec438"/><rect x="978.2" y="222" width="34.2" height="13" fill="#febe3c"/><rect x="978.2" y="235" width="34.2" height="12" fill="#f7ba3d"/><rect x="978.2" y="247" width="34.2" height="12" fill="#efba35"/><rect x="978.2" y="259" width="34.2" height="12" fill="#e6bb2d"/><rect x="978.2" y="271" width="34.2" height="12" fill="#dbbd28"/><rect x="978.2" y="283" width="34.2" height="12" fill="#d0bf27"/><rect x="978.2" y="295" width="34.2" height="12" fill="#c5c22a"/><rect x="978.2" y="307" width="34.2" height="12" fill="#b8c431"/><rect x="978.2" y="319" width="34.2" height="12" fill="#abc739"/><rect x="978.2" y="331" width="34.2" height="12" fill="#9dc943"/><rect x="978.2" y="343" width="34.2" height="12" fill="#8fcb4e"/><rect x="978.2" y="355" width="34.2" height="12" fill="#81cc59"/><rect x="978.2" y="367" width="34.2" height="12" fill="#72cd64"/><rect x="978.2" y="379" width="34.2" height="12" fill="#64cd6f"/><rect x="978.2" y="391" width="34.2" height="13" fill="#57cc7a"/><rect x="978.2" y="404" width="34.2" height="12" fill="#4bcb84"/><rect x="978.2" y="416" width="34.2" height="12" fill="#40ca8d"/><rect x="978.2" y="428" width="34.2" height="12" fill="#38c896"/><rect x="978.2" y="440" width="34.2" height="12" fill="#32c69f"/><rect x="978.2" y="452" width="34.2" height="12" fill="#2cc4a6"/><rect x="978.2" y="464" width="34.2" height="12" fill="#25c2ae"/><rect x="978.2" y="476" width="34.2" height="12" fill="#1ac0b5"/><rect x="978.2" y="488" width="34.2" height="12" fill="#09bdbd"/><rect x="978.2" y="500" width="34.2" height="12" fill="#01bac4"/><rect x="978.2" y="512" width="34.2" height="12" fill="#01b7ca"/><rect x="978.2" y="524" width="34.2" height="12" fill="#08b4d1"/><rect x="978.2" y="536" width="34.2" height="12" fill="#12b1d6"/><rect x="978.2" y="548" width="34.2" height="12" fill="#19addc"/><rect x="978.2" y="560" width="34.2" height="12" fill="#1da9e0"/><rect x="978.2" y="572" width="34.2" height="13" fill="#20a5e3"/><rect x="978.2" y="585" width="34.2" height="12" fill="#23a0e5"/><rect x="978.2" y="597" width="34.2" height="12" fill="#259be8"/><rect x="978.2" y="609" width="34.2" height="12" fill="#2797eb"/><rect x="978.2" y="621" width="34.2" height="12" fill="#2b91ef"/><rect x="978.2" y="633" width="34.2" height="12" fill="#2d8cf3"/><rect x="978.2" y="645" width="34.2" height="12" fill="#2e87f7"/><rect x="978.2" y="657" width="34.2" height="12" fill="#2f82fa"/><rect x="978.2" y="669" width="34.2" height="12" fill="#327cfc"/><rect x="978.2" y="681" width="34.2" height="12" fill="#3876fe"/><rect x="978.2" y="693" width="34.2" height="12" fill="#3e70ff"/><rect x="978.2" y="705" width="34.2" height="12" fill="#426afe"/><rect x="978.2" y="717" width="34.2" height="12" fill="#4564fd"/><rect x="978.2" y="729" width="34.2" height="12" fill="#465efb"/><rect x="978.2" y="741" width="34.2" height="13" fill="#4757f7"/><rect x="978.2" y="754" width="34.2" height="12" fill="#4852f4"/><rect x="978.2" y="766" width="34.2" height="12" fill="#484cf0"/><rect x="978.2" y="778" width="34.2" height="12" fill="#4746eb"/><rect x="978.2" y="790" width="34.2" height="12" fill="#4741e5"/><rect x="978.2" y="802" width="34.2" height="12" fill="#463bde"/><rect x="978.2" y="814" width="34.2" height="12" fill="#4537d5"/><rect x="978.2" y="826" width="34.2" height="12" fill="#4332ca"/><rect x="978.2" y="838" width="34.2" height="12" fill="#422ebf"/><rect x="978.2" y="850" width="34.2" height="12" fill="#402ab4"/><rect x="978.2" y="862" width="34.2" height="12.2" fill="#3e26a8"/>
</g>
<path class="l" d="M251.86 874.20v-7.60M251.86 103.20v7.60M401.59 874.20v-7.60M401.59 103.20v7.60M551.32 874.20v-7.60M551.32 103.20v7.60M701.06 874.20v-7.60M701.06 103.20v7.60M850.79 874.20v-7.60M850.79 103.20v7.60M117.10 227.11h7.60M955.60 227.11h-7.60M117.10 364.79h7.60M955.60 364.79h-7.60M117.10 502.47h7.60M955.60 502.47h-7.60M117.10 640.15h7.60M955.60 640.15h-7.60M117.10 777.83h7.60M955.60 777.83h-7.60M1012.40 806.28h-7.60M1012.40 711.14h-7.60M1012.40 616.01h-7.60M1012.40 520.88h-7.60M1012.40 425.75h-7.60M1012.40 330.61h-7.60M1012.40 235.48h-7.60M1012.40 140.35h-7.60M117.10 103.20H955.60V874.20H117.10ZM978.20 101.80H1012.40V874.20H978.20Z"/>
<text class="t" x="251.86" y="931.30" text-anchor="middle" textLength="25.08" lengthAdjust="spacingAndGlyphs">5</text><text class="t" x="401.59" y="931.30" text-anchor="middle" textLength="50.15" lengthAdjust="spacingAndGlyphs">10</text><text class="t" x="551.32" y="931.30" text-anchor="middle" textLength="50.15" lengthAdjust="spacingAndGlyphs">15</text><text class="t" x="701.06" y="931.30" text-anchor="middle" textLength="50.15" lengthAdjust="spacingAndGlyphs">20</text><text class="t" x="850.79" y="931.30" text-anchor="middle" textLength="50.15" lengthAdjust="spacingAndGlyphs">25</text>
<text class="t" x="102.40" y="243.91" text-anchor="end" textLength="25.08" lengthAdjust="spacingAndGlyphs">5</text><text class="t" x="102.40" y="381.59" text-anchor="end" textLength="50.15" lengthAdjust="spacingAndGlyphs">10</text><text class="t" x="102.40" y="519.27" text-anchor="end" textLength="50.15" lengthAdjust="spacingAndGlyphs">15</text><text class="t" x="102.40" y="656.95" text-anchor="end" textLength="50.15" lengthAdjust="spacingAndGlyphs">20</text><text class="t" x="102.40" y="794.62" text-anchor="end" textLength="50.15" lengthAdjust="spacingAndGlyphs">25</text>
<text class="c" x="1023.30" y="821.88" textLength="56.48" lengthAdjust="spacingAndGlyphs">1.5</text><text class="c" x="1023.30" y="726.74" textLength="22.59" lengthAdjust="spacingAndGlyphs">2</text><text class="c" x="1023.30" y="631.61" textLength="56.48" lengthAdjust="spacingAndGlyphs">2.5</text><text class="c" x="1023.30" y="536.48" textLength="22.59" lengthAdjust="spacingAndGlyphs">3</text><text class="c" x="1023.30" y="441.35" textLength="56.48" lengthAdjust="spacingAndGlyphs">3.5</text><text class="c" x="1023.30" y="346.21" textLength="22.59" lengthAdjust="spacingAndGlyphs">4</text><text class="c" x="1023.30" y="251.08" textLength="56.48" lengthAdjust="spacingAndGlyphs">4.5</text><text class="c" x="1023.30" y="155.95" textLength="22.59" lengthAdjust="spacingAndGlyphs">5</text>
<text class="tt" x="535.60" y="84.50" text-anchor="middle" letter-spacing="-0.72">DESIS Covariance</text>
<text class="c"><tspan class="x" x="1013.00" y="92.00">×</tspan><tspan x="1041.10" y="85.40">10</tspan><tspan class="e" dx="3.00" dy="-20.60">-7</tspan></text>
<g>
<rect x="1317" y="103.2" width="23" height="21.8" fill="#f9fb15"/><rect x="1340" y="103.2" width="24" height="21.8" fill="#4561fc"/><rect x="1364" y="103.2" width="23" height="21.8" fill="#3e26a8"/><rect x="1387" y="103.2" width="48" height="21.8" fill="#4564fd"/><rect x="1435" y="103.2" width="23" height="21.8" fill="#4332ca"/><rect x="1458" y="103.2" width="24" height="21.8" fill="#3e26a8"/><rect x="1482" y="103.2" width="24" height="21.8" fill="#4757f7"/><rect x="1506" y="103.2" width="23" height="21.8" fill="#4564fd"/><rect x="1529" y="103.2" width="24" height="21.8" fill="#402ab4"/><rect x="1553" y="103.2" width="24" height="21.8" fill="#4434d0"/><rect x="1577" y="103.2" width="24" height="21.8" fill="#4757f7"/><rect x="1601" y="103.2" width="23" height="21.8" fill="#4537d5"/><rect x="1624" y="103.2" width="24" height="21.8" fill="#422ebf"/><rect x="1648" y="103.2" width="24" height="21.8" fill="#473ee1"/><rect x="1672" y="103.2" width="23" height="21.8" fill="#484cf0"/><rect x="1695" y="103.2" width="24" height="21.8" fill="#463bde"/><rect x="1719" y="103.2" width="24" height="21.8" fill="#402ab4"/><rect x="1743" y="103.2" width="47" height="21.8" fill="#484cf0"/><rect x="1790" y="103.2" width="24" height="21.8" fill="#422fc2"/><rect x="1814" y="103.2" width="23" height="21.8" fill="#4433cd"/><rect x="1837" y="103.2" width="48" height="21.8" fill="#4741e5"/><rect x="1885" y="103.2" width="47" height="21.8" fill="#422ebf"/><rect x="1932" y="103.2" width="24" height="21.8" fill="#484cf0"/><rect x="1956" y="103.2" width="24" height="21.8" fill="#463bde"/><rect x="1980" y="103.2" width="23" height="21.8" fill="#422fc2"/><rect x="2003" y="103.2" width="24" height="21.8" fill="#463bde"/><rect x="2027" y="103.2" width="24" height="21.8" fill="#473ee1"/><rect x="2051" y="103.2" width="23" height="21.8" fill="#4433cd"/><rect x="2074" y="103.2" width="24" height="21.8" fill="#422fc2"/><rect x="2098" y="103.2" width="24" height="21.8" fill="#463bde"/><rect x="2122" y="103.2" width="24.3" height="21.8" fill="#4744e8"/>
<rect x="1317" y="125" width="23" height="22" fill="#4561fc"/><rect x="1340" y="125" width="24" height="22" fill="#e6bb2d"/><rect x="1364" y="125" width="23" height="22" fill="#4852f4"/><rect x="1387" y="125" width="24" height="22" fill="#412cba"/><rect x="1411" y="125" width="24" height="22" fill="#4757f7"/><rect x="1435" y="125" width="23" height="22" fill="#4564fd"/><rect x="1458" y="125" width="24" height="22" fill="#4537d5"/><rect x="1482" y="125" width="24" height="22" fill="#3e26a8"/><rect x="1506" y="125" width="23" height="22" fill="#4849ed"/><rect x="1529" y="125" width="24" height="22" fill="#465efb"/><rect x="1553" y="125" width="24" height="22" fill="#402ab4"/><rect x="1577" y="125" width="24" height="22" fill="#463bde"/><rect x="1601" y="125" width="23" height="22" fill="#4852f4"/><rect x="1624" y="125" width="24" height="22" fill="#463bde"/><rect x="1648" y="125" width="24" height="22" fill="#4332ca"/><rect x="1672" y="125" width="23" height="22" fill="#473ee1"/><rect x="1695" y="125" width="24" height="22" fill="#4746eb"/><rect x="1719" y="125" width="24" height="22" fill="#4537d5"/><rect x="1743" y="125" width="23" height="22" fill="#422fc2"/><rect x="1766" y="125" width="48" height="22" fill="#4746eb"/><rect x="1814" y="125" width="23" height="22" fill="#422fc2"/><rect x="1837" y="125" width="24" height="22" fill="#4332ca"/><rect x="1861" y="125" width="24" height="22" fill="#4741e5"/><rect x="1885" y="125" width="24" height="22" fill="#4639d9"/><rect x="1909" y="125" width="47" height="22" fill="#422ebf"/><rect x="1956" y="125" width="24" height="22" fill="#4744e8"/><rect x="1980" y="125" width="23" height="22" fill="#463bde"/><rect x="2003" y="125" width="24" height="22" fill="#412dbd"/><rect x="2027" y="125" width="24" height="22" fill="#463bde"/><rect x="2051" y="125" width="23" height="22" fill="#473ee1"/><rect x="2074" y="125" width="24" height="22" fill="#4433cd"/><rect x="2098" y="125" width="24" height="22" fill="#4330c5"/><rect x="2122" y="125" width="24.3" height="22" fill="#4537d5"/>
<rect x="1317" y="147" width="23" height="22" fill="#3e26a8"/><rect x="1340" y="147" width="24" height="22" fill="#4852f4"/><rect x="1364" y="147" width="23" height="22" fill="#32c69f"/><rect x="1387" y="147" width="24" height="22" fill="#4849ed"/><rect x="1411" y="147" width="24" height="22" fill="#402ab4"/><rect x="1435" y="147" width="23" height="22" fill="#484cf0"/><rect x="1458" y="147" width="24" height="22" fill="#4854f6"/><rect x="1482" y="147" width="24" height="22" fill="#4434d0"/><rect x="1506" y="147" width="23" height="22" fill="#402ab4"/><rect x="1529" y="147" width="24" height="22" fill="#4746eb"/><rect x="1553" y="147" width="24" height="22" fill="#4852f4"/><rect x="1577" y="147" width="24" height="22" fill="#422ebf"/><rect x="1601" y="147" width="23" height="22" fill="#473ee1"/><rect x="1624" y="147" width="24" height="22" fill="#484cf0"/><rect x="1648" y="147" width="24" height="22" fill="#473ee1"/><rect x="1672" y="147" width="23" height="22" fill="#4332ca"/><rect x="1695" y="147" width="24" height="22" fill="#463bde"/><rect x="1719" y="147" width="24" height="22" fill="#4744e8"/><rect x="1743" y="147" width="23" height="22" fill="#4535d2"/><rect x="1766" y="147" width="24" height="22" fill="#422fc2"/><rect x="1790" y="147" width="24" height="22" fill="#473fe3"/><rect x="1814" y="147" width="23" height="22" fill="#4746eb"/><rect x="1837" y="147" width="48" height="22" fill="#4332ca"/><rect x="1885" y="147" width="24" height="22" fill="#473fe3"/><rect x="1909" y="147" width="23" height="22" fill="#463bde"/><rect x="1932" y="147" width="24" height="22" fill="#4332ca"/><rect x="1956" y="147" width="24" height="22" fill="#4331c8"/><rect x="1980" y="147" width="23" height="22" fill="#4744e8"/><rect x="2003" y="147" width="24" height="22" fill="#463bde"/><rect x="2027" y="147" width="24" height="22" fill="#4332ca"/><rect x="2051" y="147" width="23" height="22" fill="#463bde"/><rect x="2074" y="147" width="24" height="22" fill="#473fe3"/><rect x="2098" y="147" width="24" height="22" fill="#4537d5"/><rect x="2122" y="147" width="24.3" height="22" fill="#4332ca"/>
<rect x="1317" y="169" width="23" height="22" fill="#4564fd"/><rect x="1340" y="169" width="24" height="22" fill="#412cba"/><rect x="1364" y="169" width="23" height="22" fill="#4849ed"/><rect x="1387" y="169" width="24" height="22" fill="#01b7ca"/><rect x="1411" y="169" width="24" height="22" fill="#4741e5"/><rect x="1435" y="169" width="23" height="22" fill="#412cba"/><rect x="1458" y="169" width="24" height="22" fill="#4849ed"/><rect x="1482" y="169" width="24" height="22" fill="#4852f4"/><rect x="1506" y="169" width="23" height="22" fill="#4434d0"/><rect x="1529" y="169" width="24" height="22" fill="#402ab4"/><rect x="1553" y="169" width="24" height="22" fill="#4744e8"/><rect x="1577" y="169" width="24" height="22" fill="#484cf0"/><rect x="1601" y="169" width="23" height="22" fill="#422ebf"/><rect x="1624" y="169" width="24" height="22" fill="#463bde"/><rect x="1648" y="169" width="24" height="22" fill="#484cf0"/><rect x="1672" y="169" width="23" height="22" fill="#473ee1"/><rect x="1695" y="169" width="24" height="22" fill="#4332ca"/><rect x="1719" y="169" width="24" height="22" fill="#4639d9"/><rect x="1743" y="169" width="23" height="22" fill="#473ee1"/><rect x="1766" y="169" width="24" height="22" fill="#4535d2"/><rect x="1790" y="169" width="24" height="22" fill="#422ebf"/><rect x="1814" y="169" width="23" height="22" fill="#473fe3"/><rect x="1837" y="169" width="24" height="22" fill="#4745e9"/><rect x="1861" y="169" width="24" height="22" fill="#4332ca"/><rect x="1885" y="169" width="24" height="22" fill="#4537d5"/><rect x="1909" y="169" width="23" height="22" fill="#473fe3"/><rect x="1932" y="169" width="24" height="22" fill="#463bde"/><rect x="1956" y="169" width="24" height="22" fill="#4331c8"/><rect x="1980" y="169" width="23" height="22" fill="#4332ca"/><rect x="2003" y="169" width="24" height="22" fill="#4744e8"/><rect x="2027" y="169" width="24" height="22" fill="#463bde"/><rect x="2051" y="169" width="23" height="22" fill="#4332ca"/><rect x="2074" y="169" width="24" height="22" fill="#463bde"/><rect x="2098" y="169" width="24" height="22" fill="#463ddf"/><rect x="2122" y="169" width="24.3" height="22" fill="#4537d5"/>
<rect x="1317" y="191" width="23" height="22" fill="#4564fd"/><rect x="1340" y="191" width="24" height="22" fill="#4757f7"/><rect x="1364" y="191" width="23" height="22" fill="#402ab4"/><rect x="1387" y="191" width="24" height="22" fill="#4741e5"/><rect x="1411" y="191" width="24" height="22" fill="#2797eb"/><rect x="1435" y="191" width="23" height="22" fill="#4741e5"/><rect x="1458" y="191" width="24" height="22" fill="#4330c5"/><rect x="1482" y="191" width="47" height="22" fill="#4746eb"/><rect x="1529" y="191" width="24" height="22" fill="#4434d0"/><rect x="1553" y="191" width="24" height="22" fill="#402ab4"/><rect x="1577" y="191" width="24" height="22" fill="#4741e5"/><rect x="1601" y="191" width="23" height="22" fill="#4744e8"/><rect x="1624" y="191" width="24" height="22" fill="#4332ca"/><rect x="1648" y="191" width="24" height="22" fill="#463bde"/><rect x="1672" y="191" width="23" height="22" fill="#4741e5"/><rect x="1695" y="191" width="24" height="22" fill="#4639d9"/><rect x="1719" y="191" width="24" height="22" fill="#4330c5"/><rect x="1743" y="191" width="23" height="22" fill="#463bde"/><rect x="1766" y="191" width="24" height="22" fill="#473ee1"/><rect x="1790" y="191" width="24" height="22" fill="#4537d5"/><rect x="1814" y="191" width="23" height="22" fill="#4332ca"/><rect x="1837" y="191" width="48" height="22" fill="#473fe3"/><rect x="1885" y="191" width="24" height="22" fill="#4332ca"/><rect x="1909" y="191" width="23" height="22" fill="#4537d5"/><rect x="1932" y="191" width="24" height="22" fill="#463bde"/><rect x="1956" y="191" width="24" height="22" fill="#463ddf"/><rect x="1980" y="191" width="47" height="22" fill="#4332ca"/><rect x="2027" y="191" width="24" height="22" fill="#473fe3"/><rect x="2051" y="191" width="23" height="22" fill="#463bde"/><rect x="2074" y="191" width="24" height="22" fill="#4332ca"/><rect x="2098" y="191" width="24" height="22" fill="#463bde"/><rect x="2122" y="191" width="24.3" height="22" fill="#473ee1"/>
<rect x="1317" y="213" width="23" height="22" fill="#4332ca"/><rect x="1340" y="213" width="24" height="22" fill="#4564fd"/><rect x="1364" y="213" width="23" height="22" fill="#484cf0"/><rect x="1387" y="213" width="24" height="22" fill="#412cba"/><rect x="1411" y="213" width="24" height="22" fill="#4741e5"/><rect x="1435" y="213" width="23" height="22" fill="#2c8ff1"/><rect x="1458" y="213" width="24" height="22" fill="#463bde"/><rect x="1482" y="213" width="24" height="22" fill="#4332ca"/><rect x="1506" y="213" width="23" height="22" fill="#4741e5"/><rect x="1529" y="213" width="24" height="22" fill="#4746eb"/><rect x="1553" y="213" width="24" height="22" fill="#4434d0"/><rect x="1577" y="213" width="24" height="22" fill="#422ebf"/><rect x="1601" y="213" width="23" height="22" fill="#4741e5"/><rect x="1624" y="213" width="24" height="22" fill="#4746eb"/><rect x="1648" y="213" width="24" height="22" fill="#4332ca"/><rect x="1672" y="213" width="23" height="22" fill="#463bde"/><rect x="1695" y="213" width="24" height="22" fill="#4741e5"/><rect x="1719" y="213" width="24" height="22" fill="#463bde"/><rect x="1743" y="213" width="23" height="22" fill="#4332ca"/><rect x="1766" y="213" width="24" height="22" fill="#4537d5"/><rect x="1790" y="213" width="24" height="22" fill="#463bde"/><rect x="1814" y="213" width="23" height="22" fill="#4537d5"/><rect x="1837" y="213" width="24" height="22" fill="#4332ca"/><rect x="1861" y="213" width="48" height="22" fill="#473fe3"/><rect x="1909" y="213" width="47" height="22" fill="#4537d5"/><rect x="1956" y="213" width="47" height="22" fill="#463ddf"/><rect x="2003" y="213" width="48" height="22" fill="#4332ca"/><rect x="2051" y="213" width="23" height="22" fill="#473fe3"/><rect x="2074" y="213" width="24" height="22" fill="#463bde"/><rect x="2098" y="213" width="24" height="22" fill="#4332ca"/><rect x="2122" y="213" width="24.3" height="22" fill="#463bde"/>
<rect x="1317" y="235" width="23" height="22" fill="#3e26a8"/><rect x="1340" y="235" width="24" height="22" fill="#4537d5"/><rect x="1364" y="235" width="23" height="22" fill="#4854f6"/><rect x="1387" y="235" width="24" height="22" fill="#4849ed"/><rect x="1411" y="235" width="24" height="22" fill="#4330c5"/><rect x="1435" y="235" width="23" height="22" fill="#463bde"/><rect x="1458" y="235" width="24" height="22" fill="#2e84f8"/><rect x="1482" y="235" width="24" height="22" fill="#463bde"/><rect x="1506" y="235" width="23" height="22" fill="#4332ca"/><rect x="1529" y="235" width="48" height="22" fill="#4741e5"/><rect x="1577" y="235" width="24" height="22" fill="#4537d5"/><rect x="1601" y="235" width="23" height="22" fill="#422ebf"/><rect x="1624" y="235" width="24" height="22" fill="#4741e5"/><rect x="1648" y="235" width="24" height="22" fill="#4746eb"/><rect x="1672" y="235" width="23" height="22" fill="#4537d5"/><rect x="1695" y="235" width="24" height="22" fill="#4639d9"/><rect x="1719" y="235" width="24" height="22" fill="#463bde"/><rect x="1743" y="235" width="23" height="22" fill="#463adb"/><rect x="1766" y="235" width="48" height="22" fill="#4537d5"/><rect x="1814" y="235" width="23" height="22" fill="#463bde"/><rect x="1837" y="235" width="24" height="22" fill="#4537d5"/><rect x="1861" y="235" width="24" height="22" fill="#4332ca"/><rect x="1885" y="235" width="24" height="22" fill="#473fe3"/><rect x="1909" y="235" width="23" height="22" fill="#473ee1"/><rect x="1932" y="235" width="48" height="22" fill="#4537d5"/><rect x="1980" y="235" width="47" height="22" fill="#463bde"/><rect x="2027" y="235" width="24" height="22" fill="#4537d5"/><rect x="2051" y="235" width="23" height="22" fill="#4332ca"/><rect x="2074" y="235" width="24" height="22" fill="#473ee1"/><rect x="2098" y="235" width="24" height="22" fill="#463bde"/><rect x="2122" y="235" width="24.3" height="22" fill="#4332ca"/>
<rect x="1317" y="257" width="23" height="22" fill="#4757f7"/><rect x="1340" y="257" width="24" height="22" fill="#3e26a8"/><rect x="1364" y="257" width="23" height="22" fill="#4434d0"/><rect x="1387" y="257" width="24" height="22" fill="#4852f4"/><rect x="1411" y="257" width="24" height="22" fill="#4746eb"/><rect x="1435" y="257" width="23" height="22" fill="#4332ca"/><rect x="1458" y="257" width="24" height="22" fill="#463bde"/><rect x="1482" y="257" width="24" height="22" fill="#3876fe"/><rect x="1506" y="257" width="23" height="22" fill="#463bde"/><rect x="1529" y="257" width="24" height="22" fill="#4332ca"/><rect x="1553" y="257" width="48" height="22" fill="#4741e5"/><rect x="1601" y="257" width="23" height="22" fill="#4537d5"/><rect x="1624" y="257" width="24" height="22" fill="#4332ca"/><rect x="1648" y="257" width="24" height="22" fill="#463bde"/><rect x="1672" y="257" width="23" height="22" fill="#473ee1"/><rect x="1695" y="257" width="24" height="22" fill="#4537d5"/><rect x="1719" y="257" width="24" height="22" fill="#4639d9"/><rect x="1743" y="257" width="23" height="22" fill="#473ee1"/><rect x="1766" y="257" width="24" height="22" fill="#463adb"/><rect x="1790" y="257" width="24" height="22" fill="#4537d5"/><rect x="1814" y="257" width="47" height="22" fill="#463adb"/><rect x="1861" y="257" width="24" height="22" fill="#4537d5"/><rect x="1885" y="257" width="24" height="22" fill="#4332ca"/><rect x="1909" y="257" width="47" height="22" fill="#473ee1"/><rect x="1956" y="257" width="47" height="22" fill="#4537d5"/><rect x="2003" y="257" width="48" height="22" fill="#463adb"/><rect x="2051" y="257" width="47" height="22" fill="#4537d5"/><rect x="2098" y="257" width="24" height="22" fill="#463ddf"/><rect x="2122" y="257" width="24.3" height="22" fill="#463adb"/>
<rect x="1317" y="279" width="23" height="22" fill="#4564fd"/><rect x="1340" y="279" width="24" height="22" fill="#4849ed"/><rect x="1364" y="279" width="23" height="22" fill="#402ab4"/><rect x="1387" y="279" width="24" height="22" fill="#4434d0"/><rect x="1411" y="279" width="24" height="22" fill="#4746eb"/><rect x="1435" y="279" width="23" height="22" fill="#4741e5"/><rect x="1458" y="279" width="24" height="22" fill="#4332ca"/><rect x="1482" y="279" width="24" height="22" fill="#463bde"/><rect x="1506" y="279" width="23" height="22" fill="#4367fd"/><rect x="1529" y="279" width="24" height="22" fill="#463bde"/><rect x="1553" y="279" width="24" height="22" fill="#4332ca"/><rect x="1577" y="279" width="47" height="22" fill="#473ee1"/><rect x="1624" y="279" width="24" height="22" fill="#4537d5"/><rect x="1648" y="279" width="24" height="22" fill="#4332ca"/><rect x="1672" y="279" width="23" height="22" fill="#463bde"/><rect x="1695" y="279" width="24" height="22" fill="#473ee1"/><rect x="1719" y="279" width="24" height="22" fill="#4537d5"/><rect x="1743" y="279" width="23" height="22" fill="#463bde"/><rect x="1766" y="279" width="24" height="22" fill="#473ee1"/><rect x="1790" y="279" width="47" height="22" fill="#4537d5"/><rect x="1837" y="279" width="48" height="22" fill="#463adb"/><rect x="1885" y="279" width="47" height="22" fill="#4537d5"/><rect x="1932" y="279" width="48" height="22" fill="#473ee1"/><rect x="1980" y="279" width="47" height="22" fill="#4537d5"/><rect x="2027" y="279" width="47" height="22" fill="#463adb"/><rect x="2074" y="279" width="48" height="22" fill="#4537d5"/><rect x="2122" y="279" width="24.3" height="22" fill="#463ddf"/>
<rect x="1317" y="301" width="23" height="22" fill="#402ab4"/><rect x="1340" y="301" width="24" height="22" fill="#465efb"/><rect x="1364" y="301" width="23" height="22" fill="#4746eb"/><rect x="1387" y="301" width="24" height="22" fill="#402ab4"/><rect x="1411" y="301" width="24" height="22" fill="#4434d0"/><rect x="1435" y="301" width="23" height="22" fill="#4746eb"/><rect x="1458" y="301" width="24" height="22" fill="#4741e5"/><rect x="1482" y="301" width="24" height="22" fill="#4332ca"/><rect x="1506" y="301" width="23" height="22" fill="#463bde"/><rect x="1529" y="301" width="24" height="22" fill="#426afe"/><rect x="1553" y="301" width="24" height="22" fill="#463bde"/><rect x="1577" y="301" width="24" height="22" fill="#4330c5"/><rect x="1601" y="301" width="47" height="22" fill="#473ee1"/><rect x="1648" y="301" width="24" height="22" fill="#4537d5"/><rect x="1672" y="301" width="23" height="22" fill="#4332ca"/><rect x="1695" y="301" width="24" height="22" fill="#463bde"/><rect x="1719" y="301" width="24" height="22" fill="#473ee1"/><rect x="1743" y="301" width="47" height="22" fill="#4537d5"/><rect x="1790" y="301" width="24" height="22" fill="#473fe3"/><rect x="1814" y="301" width="23" height="22" fill="#4537d5"/><rect x="1837" y="301" width="24" height="22" fill="#4332ca"/><rect x="1861" y="301" width="24" height="22" fill="#4537d5"/><rect x="1885" y="301" width="24" height="22" fill="#463bde"/><rect x="1909" y="301" width="23" height="22" fill="#4537d5"/><rect x="1932" y="301" width="24" height="22" fill="#4332ca"/><rect x="1956" y="301" width="47" height="22" fill="#473fe3"/><rect x="2003" y="301" width="48" height="22" fill="#4537d5"/><rect x="2051" y="301" width="47" height="22" fill="#463bde"/><rect x="2098" y="301" width="48.3" height="22" fill="#4537d5"/>
<rect x="1317" y="323" width="23" height="22" fill="#4434d0"/><rect x="1340" y="323" width="24" height="22" fill="#402ab4"/><rect x="1364" y="323" width="23" height="22" fill="#4852f4"/><rect x="1387" y="323" width="24" height="22" fill="#4744e8"/><rect x="1411" y="323" width="24" height="22" fill="#402ab4"/><rect x="1435" y="323" width="23" height="22" fill="#4434d0"/><rect x="1458" y="323" width="48" height="22" fill="#4741e5"/><rect x="1506" y="323" width="23" height="22" fill="#4332ca"/><rect x="1529" y="323" width="24" height="22" fill="#463bde"/><rect x="1553" y="323" width="24" height="22" fill="#475bf9"/><rect x="1577" y="323" width="24" height="22" fill="#463bde"/><rect x="1601" y="323" width="23" height="22" fill="#4332ca"/><rect x="1624" y="323" width="24" height="22" fill="#463bde"/><rect x="1648" y="323" width="24" height="22" fill="#473ee1"/><rect x="1672" y="323" width="23" height="22" fill="#4537d5"/><rect x="1695" y="323" width="24" height="22" fill="#4332ca"/><rect x="1719" y="323" width="24" height="22" fill="#463bde"/><rect x="1743" y="323" width="23" height="22" fill="#473fe3"/><rect x="1766" y="323" width="48" height="22" fill="#4537d5"/><rect x="1814" y="323" width="23" height="22" fill="#473fe3"/><rect x="1837" y="323" width="24" height="22" fill="#463bde"/><rect x="1861" y="323" width="24" height="22" fill="#4537d5"/><rect x="1885" y="323" width="71" height="22" fill="#463bde"/><rect x="1956" y="323" width="24" height="22" fill="#4537d5"/><rect x="1980" y="323" width="47" height="22" fill="#473fe3"/><rect x="2027" y="323" width="47" height="22" fill="#4537d5"/><rect x="2074" y="323" width="48" height="22" fill="#463bde"/><rect x="2122" y="323" width="24.3" height="22" fill="#4537d5"/>
<rect x="1317" y="345" width="23" height="22" fill="#4757f7"/><rect x="1340" y="345" width="24" height="22" fill="#463bde"/><rect x="1364" y="345" width="23" height="22" fill="#422ebf"/><rect x="1387" y="345" width="24" height="22" fill="#484cf0"/><rect x="1411" y="345" width="24" height="22" fill="#4741e5"/><rect x="1435" y="345" width="23" height="22" fill="#422ebf"/><rect x="1458" y="345" width="24" height="22" fill="#4537d5"/><rect x="1482" y="345" width="24" height="22" fill="#4741e5"/><rect x="1506" y="345" width="23" height="22" fill="#473ee1"/><rect x="1529" y="345" width="24" height="22" fill="#4330c5"/><rect x="1553" y="345" width="24" height="22" fill="#463bde"/><rect x="1577" y="345" width="24" height="22" fill="#475bf9"/><rect x="1601" y="345" width="23" height="22" fill="#463bde"/><rect x="1624" y="345" width="24" height="22" fill="#4537d5"/><rect x="1648" y="345" width="47" height="22" fill="#463bde"/><rect x="1695" y="345" width="48" height="22" fill="#4537d5"/><rect x="1743" y="345" width="23" height="22" fill="#463bde"/><rect x="1766" y="345" width="24" height="22" fill="#473fe3"/><rect x="1790" y="345" width="24" height="22" fill="#4537d5"/><rect x="1814" y="345" width="23" height="22" fill="#463bde"/><rect x="1837" y="345" width="24" height="22" fill="#473fe3"/><rect x="1861" y="345" width="24" height="22" fill="#463bde"/><rect x="1885" y="345" width="24" height="22" fill="#4537d5"/><rect x="1909" y="345" width="71" height="22" fill="#463bde"/><rect x="1980" y="345" width="23" height="22" fill="#4537d5"/><rect x="2003" y="345" width="48" height="22" fill="#473fe3"/><rect x="2051" y="345" width="47" height="22" fill="#4537d5"/><rect x="2098" y="345" width="48.3" height="22" fill="#463bde"/>
<rect x="1317" y="367" width="23" height="22" fill="#4537d5"/><rect x="1340" y="367" width="24" height="22" fill="#4852f4"/><rect x="1364" y="367" width="23" height="22" fill="#473ee1"/><rect x="1387" y="367" width="24" height="22" fill="#422ebf"/><rect x="1411" y="367" width="24" height="22" fill="#4744e8"/><rect x="1435" y="367" width="23" height="22" fill="#4741e5"/><rect x="1458" y="367" width="24" height="22" fill="#422ebf"/><rect x="1482" y="367" width="24" height="22" fill="#4537d5"/><rect x="1506" y="367" width="47" height="22" fill="#473ee1"/><rect x="1553" y="367" width="24" height="22" fill="#4332ca"/><rect x="1577" y="367" width="24" height="22" fill="#463bde"/><rect x="1601" y="367" width="23" height="22" fill="#4757f7"/><rect x="1624" y="367" width="24" height="22" fill="#463bde"/><rect x="1648" y="367" width="24" height="22" fill="#4537d5"/><rect x="1672" y="367" width="47" height="22" fill="#463bde"/><rect x="1719" y="367" width="47" height="22" fill="#4537d5"/><rect x="1766" y="367" width="24" height="22" fill="#463bde"/><rect x="1790" y="367" width="24" height="22" fill="#473fe3"/><rect x="1814" y="367" width="23" height="22" fill="#4537d5"/><rect x="1837" y="367" width="24" height="22" fill="#463bde"/><rect x="1861" y="367" width="24" height="22" fill="#473fe3"/><rect x="1885" y="367" width="24" height="22" fill="#463bde"/><rect x="1909" y="367" width="23" height="22" fill="#4537d5"/><rect x="1932" y="367" width="71" height="22" fill="#463bde"/><rect x="2003" y="367" width="24" height="22" fill="#4537d5"/><rect x="2027" y="367" width="24" height="22" fill="#463bde"/><rect x="2051" y="367" width="23" height="22" fill="#473fe3"/><rect x="2074" y="367" width="48" height="22" fill="#4537d5"/><rect x="2122" y="367" width="24.3" height="22" fill="#463bde"/>
<rect x="1317" y="389" width="23" height="22" fill="#422ebf"/><rect x="1340" y="389" width="24" height="22" fill="#463bde"/><rect x="1364" y="389" width="23" height="22" fill="#484cf0"/><rect x="1387" y="389" width="24" height="22" fill="#463bde"/><rect x="1411" y="389" width="24" height="22" fill="#4332ca"/><rect x="1435" y="389" width="23" height="22" fill="#4746eb"/><rect x="1458" y="389" width="24" height="22" fill="#4741e5"/><rect x="1482" y="389" width="24" height="22" fill="#4332ca"/><rect x="1506" y="389" width="23" height="22" fill="#4537d5"/><rect x="1529" y="389" width="24" height="22" fill="#473ee1"/><rect x="1553" y="389" width="24" height="22" fill="#463bde"/><rect x="1577" y="389" width="24" height="22" fill="#4537d5"/><rect x="1601" y="389" width="23" height="22" fill="#463bde"/><rect x="1624" y="389" width="24" height="22" fill="#4852f4"/><rect x="1648" y="389" width="24" height="22" fill="#463bde"/><rect x="1672" y="389" width="23" height="22" fill="#4537d5"/><rect x="1695" y="389" width="48" height="22" fill="#463bde"/><rect x="1743" y="389" width="47" height="22" fill="#4537d5"/><rect x="1790" y="389" width="47" height="22" fill="#463bde"/><rect x="1837" y="389" width="24" height="22" fill="#4537d5"/><rect x="1861" y="389" width="24" height="22" fill="#463bde"/><rect x="1885" y="389" width="24" height="22" fill="#473fe3"/><rect x="1909" y="389" width="23" height="22" fill="#463bde"/><rect x="1932" y="389" width="24" height="22" fill="#4537d5"/><rect x="1956" y="389" width="47" height="22" fill="#463bde"/><rect x="2003" y="389" width="48" height="22" fill="#4537d5"/><rect x="2051" y="389" width="23" height="22" fill="#463bde"/><rect x="2074" y="389" width="24" height="22" fill="#473fe3"/><rect x="2098" y="389" width="48.3" height="22" fill="#4537d5"/>
<rect x="1317" y="411" width="23" height="22" fill="#473ee1"/><rect x="1340" y="411" width="24" height="22" fill="#4332ca"/><rect x="1364" y="411" width="23" height="22" fill="#473ee1"/><rect x="1387" y="411" width="24" height="22" fill="#484cf0"/><rect x="1411" y="411" width="24" height="22" fill="#463bde"/><rect x="1435" y="411" width="23" height="22" fill="#4332ca"/><rect x="1458" y="411" width="24" height="22" fill="#4746eb"/><rect x="1482" y="411" width="24" height="22" fill="#463bde"/><rect x="1506" y="411" width="23" height="22" fill="#4332ca"/><rect x="1529" y="411" width="24" height="22" fill="#4537d5"/><rect x="1553" y="411" width="24" height="22" fill="#473ee1"/><rect x="1577" y="411" width="24" height="22" fill="#463bde"/><rect x="1601" y="411" width="23" height="22" fill="#4537d5"/><rect x="1624" y="411" width="24" height="22" fill="#463bde"/><rect x="1648" y="411" width="24" height="22" fill="#4852f4"/><rect x="1672" y="411" width="23" height="22" fill="#463bde"/><rect x="1695" y="411" width="24" height="22" fill="#4537d5"/><rect x="1719" y="411" width="47" height="22" fill="#463bde"/><rect x="1766" y="411" width="48" height="22" fill="#4537d5"/><rect x="1814" y="411" width="47" height="22" fill="#463bde"/><rect x="1861" y="411" width="24" height="22" fill="#4537d5"/><rect x="1885" y="411" width="71" height="22" fill="#463bde"/><rect x="1956" y="411" width="24" height="22" fill="#4537d5"/><rect x="1980" y="411" width="71" height="22" fill="#463bde"/><rect x="2051" y="411" width="23" height="22" fill="#4537d5"/><rect x="2074" y="411" width="24" height="22" fill="#463bde"/><rect x="2098" y="411" width="24" height="22" fill="#473fe3"/><rect x="2122" y="411" width="24.3" height="22" fill="#4537d5"/>
<rect x="1317" y="433" width="23" height="22" fill="#484cf0"/><rect x="1340" y="433" width="24" height="22" fill="#473ee1"/><rect x="1364" y="433" width="23" height="22" fill="#4332ca"/><rect x="1387" y="433" width="24" height="22" fill="#473ee1"/><rect x="1411" y="433" width="24" height="22" fill="#4741e5"/><rect x="1435" y="433" width="23" height="22" fill="#463bde"/><rect x="1458" y="433" width="24" height="22" fill="#4537d5"/><rect x="1482" y="433" width="24" height="22" fill="#473ee1"/><rect x="1506" y="433" width="23" height="22" fill="#463bde"/><rect x="1529" y="433" width="24" height="22" fill="#4332ca"/><rect x="1553" y="433" width="24" height="22" fill="#4537d5"/><rect x="1577" y="433" width="47" height="22" fill="#463bde"/><rect x="1624" y="433" width="24" height="22" fill="#4537d5"/><rect x="1648" y="433" width="24" height="22" fill="#463bde"/><rect x="1672" y="433" width="23" height="22" fill="#484cf0"/><rect x="1695" y="433" width="24" height="22" fill="#463bde"/><rect x="1719" y="433" width="24" height="22" fill="#4537d5"/><rect x="1743" y="433" width="47" height="22" fill="#463bde"/><rect x="1790" y="433" width="47" height="22" fill="#4537d5"/><rect x="1837" y="433" width="48" height="22" fill="#463bde"/><rect x="1885" y="433" width="24" height="22" fill="#4537d5"/><rect x="1909" y="433" width="71" height="22" fill="#463bde"/><rect x="1980" y="433" width="23" height="22" fill="#4537d5"/><rect x="2003" y="433" width="71" height="22" fill="#463bde"/><rect x="2074" y="433" width="24" height="22" fill="#4537d5"/><rect x="2098" y="433" width="24" height="22" fill="#463bde"/><rect x="2122" y="433" width="24.3" height="22" fill="#473ee1"/>
<rect x="1317" y="455" width="23" height="22" fill="#463bde"/><rect x="1340" y="455" width="24" height="22" fill="#4746eb"/><rect x="1364" y="455" width="23" height="22" fill="#463bde"/><rect x="1387" y="455" width="24" height="22" fill="#4332ca"/><rect x="1411" y="455" width="24" height="22" fill="#4639d9"/><rect x="1435" y="455" width="23" height="22" fill="#4741e5"/><rect x="1458" y="455" width="24" height="22" fill="#4639d9"/><rect x="1482" y="455" width="24" height="22" fill="#4537d5"/><rect x="1506" y="455" width="23" height="22" fill="#473ee1"/><rect x="1529" y="455" width="24" height="22" fill="#463bde"/><rect x="1553" y="455" width="24" height="22" fill="#4332ca"/><rect x="1577" y="455" width="24" height="22" fill="#4537d5"/><rect x="1601" y="455" width="47" height="22" fill="#463bde"/><rect x="1648" y="455" width="24" height="22" fill="#4537d5"/><rect x="1672" y="455" width="23" height="22" fill="#463bde"/><rect x="1695" y="455" width="24" height="22" fill="#484cf0"/><rect x="1719" y="455" width="24" height="22" fill="#463bde"/><rect x="1743" y="455" width="23" height="22" fill="#4537d5"/><rect x="1766" y="455" width="48" height="22" fill="#463bde"/><rect x="1814" y="455" width="47" height="22" fill="#4537d5"/><rect x="1861" y="455" width="48" height="22" fill="#463bde"/><rect x="1909" y="455" width="23" height="22" fill="#4537d5"/><rect x="1932" y="455" width="48" height="22" fill="#463bde"/><rect x="1980" y="455" width="47" height="22" fill="#4537d5"/><rect x="2027" y="455" width="47" height="22" fill="#463bde"/><rect x="2074" y="455" width="48" height="22" fill="#4537d5"/><rect x="2122" y="455" width="24.3" height="22" fill="#463bde"/>
<rect x="1317" y="477" width="23" height="22" fill="#402ab4"/><rect x="1340" y="477" width="24" height="22" fill="#4537d5"/><rect x="1364" y="477" width="23" height="22" fill="#4744e8"/><rect x="1387" y="477" width="24" height="22" fill="#4639d9"/><rect x="1411" y="477" width="24" height="22" fill="#4330c5"/><rect x="1435" y="477" width="47" height="22" fill="#463bde"/><rect x="1482" y="477" width="24" height="22" fill="#4639d9"/><rect x="1506" y="477" width="23" height="22" fill="#4537d5"/><rect x="1529" y="477" width="24" height="22" fill="#473ee1"/><rect x="1553" y="477" width="24" height="22" fill="#463bde"/><rect x="1577" y="477" width="47" height="22" fill="#4537d5"/><rect x="1624" y="477" width="48" height="22" fill="#463bde"/><rect x="1672" y="477" width="23" height="22" fill="#4537d5"/><rect x="1695" y="477" width="24" height="22" fill="#463bde"/><rect x="1719" y="477" width="24" height="22" fill="#4746eb"/><rect x="1743" y="477" width="23" height="22" fill="#463bde"/><rect x="1766" y="477" width="24" height="22" fill="#4537d5"/><rect x="1790" y="477" width="47" height="22" fill="#463bde"/><rect x="1837" y="477" width="48" height="22" fill="#4537d5"/><rect x="1885" y="477" width="47" height="22" fill="#463bde"/><rect x="1932" y="477" width="24" height="22" fill="#4537d5"/><rect x="1956" y="477" width="71" height="22" fill="#463bde"/><rect x="2027" y="477" width="24" height="22" fill="#4537d5"/><rect x="2051" y="477" width="71" height="22" fill="#463bde"/><rect x="2122" y="477" width="24.3" height="22" fill="#4537d5"/>
<rect x="1317" y="499" width="23" height="22" fill="#484cf0"/><rect x="1340" y="499" width="24" height="22" fill="#422fc2"/><rect x="1364" y="499" width="23" height="22" fill="#4535d2"/><rect x="1387" y="499" width="24" height="22" fill="#473ee1"/><rect x="1411" y="499" width="24" height="22" fill="#463bde"/><rect x="1435" y="499" width="23" height="22" fill="#4332ca"/><rect x="1458" y="499" width="24" height="22" fill="#463adb"/><rect x="1482" y="499" width="24" height="22" fill="#473ee1"/><rect x="1506" y="499" width="23" height="22" fill="#463bde"/><rect x="1529" y="499" width="24" height="22" fill="#4537d5"/><rect x="1553" y="499" width="24" height="22" fill="#473fe3"/><rect x="1577" y="499" width="24" height="22" fill="#463bde"/><rect x="1601" y="499" width="47" height="22" fill="#4537d5"/><rect x="1648" y="499" width="47" height="22" fill="#463bde"/><rect x="1695" y="499" width="24" height="22" fill="#4537d5"/><rect x="1719" y="499" width="24" height="22" fill="#463bde"/><rect x="1743" y="499" width="23" height="22" fill="#4746eb"/><rect x="1766" y="499" width="24" height="22" fill="#463bde"/><rect x="1790" y="499" width="24" height="22" fill="#4537d5"/><rect x="1814" y="499" width="47" height="22" fill="#463bde"/><rect x="1861" y="499" width="48" height="22" fill="#4537d5"/><rect x="1909" y="499" width="47" height="22" fill="#463bde"/><rect x="1956" y="499" width="24" height="22" fill="#4537d5"/><rect x="1980" y="499" width="71" height="22" fill="#463bde"/><rect x="2051" y="499" width="23" height="22" fill="#4537d5"/><rect x="2074" y="499" width="72.3" height="22" fill="#463bde"/>
<rect x="1317" y="521" width="23" height="22" fill="#484cf0"/><rect x="1340" y="521" width="24" height="22" fill="#4746eb"/><rect x="1364" y="521" width="23" height="22" fill="#422fc2"/><rect x="1387" y="521" width="24" height="22" fill="#4535d2"/><rect x="1411" y="521" width="24" height="22" fill="#473ee1"/><rect x="1435" y="521" width="47" height="22" fill="#4537d5"/><rect x="1482" y="521" width="24" height="22" fill="#463adb"/><rect x="1506" y="521" width="23" height="22" fill="#473ee1"/><rect x="1529" y="521" width="48" height="22" fill="#4537d5"/><rect x="1577" y="521" width="24" height="22" fill="#473fe3"/><rect x="1601" y="521" width="23" height="22" fill="#463bde"/><rect x="1624" y="521" width="48" height="22" fill="#4537d5"/><rect x="1672" y="521" width="47" height="22" fill="#463bde"/><rect x="1719" y="521" width="24" height="22" fill="#4537d5"/><rect x="1743" y="521" width="23" height="22" fill="#463bde"/><rect x="1766" y="521" width="24" height="22" fill="#4744e8"/><rect x="1790" y="521" width="24" height="22" fill="#463bde"/><rect x="1814" y="521" width="23" height="22" fill="#4537d5"/><rect x="1837" y="521" width="48" height="22" fill="#463bde"/><rect x="1885" y="521" width="47" height="22" fill="#4537d5"/><rect x="1932" y="521" width="48" height="22" fill="#463bde"/><rect x="1980" y="521" width="23" height="22" fill="#4537d5"/><rect x="2003" y="521" width="71" height="22" fill="#463bde"/><rect x="2074" y="521" width="24" height="22" fill="#4537d5"/><rect x="2098" y="521" width="48.3" height="22" fill="#463bde"/>
<rect x="1317" y="543" width="23" height="22" fill="#422fc2"/><rect x="1340" y="543" width="24" height="22" fill="#4746eb"/><rect x="1364" y="543" width="23" height="22" fill="#473fe3"/><rect x="1387" y="543" width="24" height="22" fill="#422ebf"/><rect x="1411" y="543" width="24" height="22" fill="#4537d5"/><rect x="1435" y="543" width="23" height="22" fill="#463bde"/><rect x="1458" y="543" width="71" height="22" fill="#4537d5"/><rect x="1529" y="543" width="24" height="22" fill="#473fe3"/><rect x="1553" y="543" width="48" height="22" fill="#4537d5"/><rect x="1601" y="543" width="23" height="22" fill="#473fe3"/><rect x="1624" y="543" width="24" height="22" fill="#463bde"/><rect x="1648" y="543" width="47" height="22" fill="#4537d5"/><rect x="1695" y="543" width="48" height="22" fill="#463bde"/><rect x="1743" y="543" width="23" height="22" fill="#4537d5"/><rect x="1766" y="543" width="24" height="22" fill="#463bde"/><rect x="1790" y="543" width="24" height="22" fill="#4744e8"/><rect x="1814" y="543" width="23" height="22" fill="#463bde"/><rect x="1837" y="543" width="24" height="22" fill="#4537d5"/><rect x="1861" y="543" width="48" height="22" fill="#463bde"/><rect x="1909" y="543" width="47" height="22" fill="#4537d5"/><rect x="1956" y="543" width="47" height="22" fill="#463bde"/><rect x="2003" y="543" width="24" height="22" fill="#4537d5"/><rect x="2027" y="543" width="71" height="22" fill="#463bde"/><rect x="2098" y="543" width="24" height="22" fill="#4537d5"/><rect x="2122" y="543" width="24.3" height="22" fill="#463bde"/>
<rect x="1317" y="565" width="23" height="22" fill="#4433cd"/><rect x="1340" y="565" width="24" height="22" fill="#422fc2"/><rect x="1364" y="565" width="23" height="22" fill="#4746eb"/><rect x="1387" y="565" width="24" height="22" fill="#473fe3"/><rect x="1411" y="565" width="24" height="22" fill="#4332ca"/><rect x="1435" y="565" width="23" height="22" fill="#4537d5"/><rect x="1458" y="565" width="24" height="22" fill="#463bde"/><rect x="1482" y="565" width="24" height="22" fill="#463adb"/><rect x="1506" y="565" width="47" height="22" fill="#4537d5"/><rect x="1553" y="565" width="24" height="22" fill="#473fe3"/><rect x="1577" y="565" width="24" height="22" fill="#463bde"/><rect x="1601" y="565" width="23" height="22" fill="#4537d5"/><rect x="1624" y="565" width="48" height="22" fill="#463bde"/><rect x="1672" y="565" width="47" height="22" fill="#4537d5"/><rect x="1719" y="565" width="47" height="22" fill="#463bde"/><rect x="1766" y="565" width="24" height="22" fill="#4537d5"/><rect x="1790" y="565" width="24" height="22" fill="#463bde"/><rect x="1814" y="565" width="23" height="22" fill="#4741e5"/><rect x="1837" y="565" width="24" height="22" fill="#463bde"/><rect x="1861" y="565" width="24" height="22" fill="#4537d5"/><rect x="1885" y="565" width="71" height="22" fill="#463bde"/><rect x="1956" y="565" width="24" height="22" fill="#4537d5"/><rect x="1980" y="565" width="47" height="22" fill="#463bde"/><rect x="2027" y="565" width="24" height="22" fill="#4537d5"/><rect x="2051" y="565" width="71" height="22" fill="#463bde"/><rect x="2122" y="565" width="24.3" height="22" fill="#4537d5"/>
<rect x="1317" y="587" width="23" height="22" fill="#4741e5"/><rect x="1340" y="587" width="47" height="22" fill="#4332ca"/><rect x="1387" y="587" width="24" height="22" fill="#4745e9"/><rect x="1411" y="587" width="24" height="22" fill="#473fe3"/><rect x="1435" y="587" width="23" height="22" fill="#4332ca"/><rect x="1458" y="587" width="24" height="22" fill="#4537d5"/><rect x="1482" y="587" width="47" height="22" fill="#463adb"/><rect x="1529" y="587" width="24" height="22" fill="#4332ca"/><rect x="1553" y="587" width="24" height="22" fill="#463bde"/><rect x="1577" y="587" width="24" height="22" fill="#473fe3"/><rect x="1601" y="587" width="23" height="22" fill="#463bde"/><rect x="1624" y="587" width="24" height="22" fill="#4537d5"/><rect x="1648" y="587" width="47" height="22" fill="#463bde"/><rect x="1695" y="587" width="48" height="22" fill="#4537d5"/><rect x="1743" y="587" width="47" height="22" fill="#463bde"/><rect x="1790" y="587" width="24" height="22" fill="#4537d5"/><rect x="1814" y="587" width="23" height="22" fill="#463bde"/><rect x="1837" y="587" width="24" height="22" fill="#4741e5"/><rect x="1861" y="587" width="24" height="22" fill="#463bde"/><rect x="1885" y="587" width="24" height="22" fill="#4537d5"/><rect x="1909" y="587" width="47" height="22" fill="#463bde"/><rect x="1956" y="587" width="47" height="22" fill="#4537d5"/><rect x="2003" y="587" width="48" height="22" fill="#463bde"/><rect x="2051" y="587" width="23" height="22" fill="#4537d5"/><rect x="2074" y="587" width="72.3" height="22" fill="#463bde"/>
<rect x="1317" y="609" width="47" height="22" fill="#4741e5"/><rect x="1364" y="609" width="47" height="22" fill="#4332ca"/><rect x="1411" y="609" width="47" height="22" fill="#473fe3"/><rect x="1458" y="609" width="24" height="22" fill="#4332ca"/><rect x="1482" y="609" width="24" height="22" fill="#4537d5"/><rect x="1506" y="609" width="23" height="22" fill="#463adb"/><rect x="1529" y="609" width="48" height="22" fill="#4537d5"/><rect x="1577" y="609" width="24" height="22" fill="#463bde"/><rect x="1601" y="609" width="23" height="22" fill="#473fe3"/><rect x="1624" y="609" width="24" height="22" fill="#463bde"/><rect x="1648" y="609" width="24" height="22" fill="#4537d5"/><rect x="1672" y="609" width="47" height="22" fill="#463bde"/><rect x="1719" y="609" width="47" height="22" fill="#4537d5"/><rect x="1766" y="609" width="48" height="22" fill="#463bde"/><rect x="1814" y="609" width="23" height="22" fill="#4537d5"/><rect x="1837" y="609" width="24" height="22" fill="#463bde"/><rect x="1861" y="609" width="24" height="22" fill="#4741e5"/><rect x="1885" y="609" width="24" height="22" fill="#463bde"/><rect x="1909" y="609" width="23" height="22" fill="#4537d5"/><rect x="1932" y="609" width="48" height="22" fill="#463bde"/><rect x="1980" y="609" width="47" height="22" fill="#4537d5"/><rect x="2027" y="609" width="47" height="22" fill="#463bde"/><rect x="2074" y="609" width="24" height="22" fill="#4537d5"/><rect x="2098" y="609" width="48.3" height="22" fill="#463bde"/>
<rect x="1317" y="631" width="23" height="22" fill="#422ebf"/><rect x="1340" y="631" width="24" height="22" fill="#4639d9"/><rect x="1364" y="631" width="23" height="22" fill="#473fe3"/><rect x="1387" y="631" width="24" height="22" fill="#4537d5"/><rect x="1411" y="631" width="24" height="22" fill="#4332ca"/><rect x="1435" y="631" width="47" height="22" fill="#473fe3"/><rect x="1482" y="631" width="24" height="22" fill="#4332ca"/><rect x="1506" y="631" width="23" height="22" fill="#4537d5"/><rect x="1529" y="631" width="48" height="22" fill="#463bde"/><rect x="1577" y="631" width="24" height="22" fill="#4537d5"/><rect x="1601" y="631" width="23" height="22" fill="#463bde"/><rect x="1624" y="631" width="24" height="22" fill="#473fe3"/><rect x="1648" y="631" width="24" height="22" fill="#463bde"/><rect x="1672" y="631" width="23" height="22" fill="#4537d5"/><rect x="1695" y="631" width="48" height="22" fill="#463bde"/><rect x="1743" y="631" width="47" height="22" fill="#4537d5"/><rect x="1790" y="631" width="47" height="22" fill="#463bde"/><rect x="1837" y="631" width="24" height="22" fill="#4537d5"/><rect x="1861" y="631" width="24" height="22" fill="#463bde"/><rect x="1885" y="631" width="24" height="22" fill="#4741e5"/><rect x="1909" y="631" width="23" height="22" fill="#463bde"/><rect x="1932" y="631" width="24" height="22" fill="#4537d5"/><rect x="1956" y="631" width="47" height="22" fill="#463bde"/><rect x="2003" y="631" width="48" height="22" fill="#4537d5"/><rect x="2051" y="631" width="47" height="22" fill="#463bde"/><rect x="2098" y="631" width="24" height="22" fill="#4537d5"/><rect x="2122" y="631" width="24.3" height="22" fill="#463bde"/>
<rect x="1317" y="653" width="47" height="22" fill="#422ebf"/><rect x="1364" y="653" width="23" height="22" fill="#463bde"/><rect x="1387" y="653" width="24" height="22" fill="#473fe3"/><rect x="1411" y="653" width="47" height="22" fill="#4537d5"/><rect x="1458" y="653" width="48" height="22" fill="#473ee1"/><rect x="1506" y="653" width="47" height="22" fill="#4537d5"/><rect x="1553" y="653" width="48" height="22" fill="#463bde"/><rect x="1601" y="653" width="23" height="22" fill="#4537d5"/><rect x="1624" y="653" width="71" height="22" fill="#463bde"/><rect x="1695" y="653" width="24" height="22" fill="#4537d5"/><rect x="1719" y="653" width="47" height="22" fill="#463bde"/><rect x="1766" y="653" width="48" height="22" fill="#4537d5"/><rect x="1814" y="653" width="47" height="22" fill="#463bde"/><rect x="1861" y="653" width="24" height="22" fill="#4537d5"/><rect x="1885" y="653" width="24" height="22" fill="#463bde"/><rect x="1909" y="653" width="23" height="22" fill="#4741e5"/><rect x="1932" y="653" width="24" height="22" fill="#463bde"/><rect x="1956" y="653" width="24" height="22" fill="#4537d5"/><rect x="1980" y="653" width="47" height="22" fill="#463bde"/><rect x="2027" y="653" width="47" height="22" fill="#4537d5"/><rect x="2074" y="653" width="48" height="22" fill="#463bde"/><rect x="2122" y="653" width="24.3" height="22" fill="#4537d5"/>
<rect x="1317" y="675" width="23" height="22" fill="#484cf0"/><rect x="1340" y="675" width="24" height="22" fill="#422ebf"/><rect x="1364" y="675" width="23" height="22" fill="#4332ca"/><rect x="1387" y="675" width="48" height="22" fill="#463bde"/><rect x="1435" y="675" width="47" height="22" fill="#4537d5"/><rect x="1482" y="675" width="47" height="22" fill="#473ee1"/><rect x="1529" y="675" width="24" height="22" fill="#4332ca"/><rect x="1553" y="675" width="71" height="22" fill="#463bde"/><rect x="1624" y="675" width="24" height="22" fill="#4537d5"/><rect x="1648" y="675" width="71" height="22" fill="#463bde"/><rect x="1719" y="675" width="24" height="22" fill="#4537d5"/><rect x="1743" y="675" width="47" height="22" fill="#463bde"/><rect x="1790" y="675" width="24" height="22" fill="#4537d5"/><rect x="1814" y="675" width="71" height="22" fill="#463bde"/><rect x="1885" y="675" width="24" height="22" fill="#4537d5"/><rect x="1909" y="675" width="23" height="22" fill="#463bde"/><rect x="1932" y="675" width="24" height="22" fill="#4741e5"/><rect x="1956" y="675" width="24" height="22" fill="#463bde"/><rect x="1980" y="675" width="23" height="22" fill="#4537d5"/><rect x="2003" y="675" width="71" height="22" fill="#463bde"/><rect x="2074" y="675" width="24" height="22" fill="#4537d5"/><rect x="2098" y="675" width="48.3" height="22" fill="#463bde"/>
<rect x="1317" y="697" width="23" height="22" fill="#463bde"/><rect x="1340" y="697" width="24" height="22" fill="#4744e8"/><rect x="1364" y="697" width="47" height="22" fill="#4331c8"/><rect x="1411" y="697" width="47" height="22" fill="#463ddf"/><rect x="1458" y="697" width="48" height="22" fill="#4537d5"/><rect x="1506" y="697" width="23" height="22" fill="#473ee1"/><rect x="1529" y="697" width="24" height="22" fill="#473fe3"/><rect x="1553" y="697" width="24" height="22" fill="#4537d5"/><rect x="1577" y="697" width="71" height="22" fill="#463bde"/><rect x="1648" y="697" width="24" height="22" fill="#4537d5"/><rect x="1672" y="697" width="71" height="22" fill="#463bde"/><rect x="1743" y="697" width="23" height="22" fill="#4537d5"/><rect x="1766" y="697" width="48" height="22" fill="#463bde"/><rect x="1814" y="697" width="47" height="22" fill="#4537d5"/><rect x="1861" y="697" width="48" height="22" fill="#463bde"/><rect x="1909" y="697" width="23" height="22" fill="#4537d5"/><rect x="1932" y="697" width="24" height="22" fill="#463bde"/><rect x="1956" y="697" width="24" height="22" fill="#4741e5"/><rect x="1980" y="697" width="23" height="22" fill="#463bde"/><rect x="2003" y="697" width="24" height="22" fill="#4537d5"/><rect x="2027" y="697" width="47" height="22" fill="#463bde"/><rect x="2074" y="697" width="48" height="22" fill="#4537d5"/><rect x="2122" y="697" width="24.3" height="22" fill="#463bde"/>
<rect x="1317" y="719" width="23" height="22" fill="#422fc2"/><rect x="1340" y="719" width="24" height="22" fill="#463bde"/><rect x="1364" y="719" width="23" height="22" fill="#4744e8"/><rect x="1387" y="719" width="48" height="22" fill="#4332ca"/><rect x="1435" y="719" width="23" height="22" fill="#463ddf"/><rect x="1458" y="719" width="24" height="22" fill="#463bde"/><rect x="1482" y="719" width="47" height="22" fill="#4537d5"/><rect x="1529" y="719" width="48" height="22" fill="#473fe3"/><rect x="1577" y="719" width="24" height="22" fill="#4537d5"/><rect x="1601" y="719" width="71" height="22" fill="#463bde"/><rect x="1672" y="719" width="47" height="22" fill="#4537d5"/><rect x="1719" y="719" width="47" height="22" fill="#463bde"/><rect x="1766" y="719" width="24" height="22" fill="#4537d5"/><rect x="1790" y="719" width="47" height="22" fill="#463bde"/><rect x="1837" y="719" width="48" height="22" fill="#4537d5"/><rect x="1885" y="719" width="47" height="22" fill="#463bde"/><rect x="1932" y="719" width="24" height="22" fill="#4537d5"/><rect x="1956" y="719" width="24" height="22" fill="#463bde"/><rect x="1980" y="719" width="23" height="22" fill="#4741e5"/><rect x="2003" y="719" width="24" height="22" fill="#463bde"/><rect x="2027" y="719" width="24" height="22" fill="#4537d5"/><rect x="2051" y="719" width="47" height="22" fill="#463bde"/><rect x="2098" y="719" width="48.3" height="22" fill="#4537d5"/>
<rect x="1317" y="741" width="23" height="22" fill="#463bde"/><rect x="1340" y="741" width="24" height="22" fill="#412dbd"/><rect x="1364" y="741" width="23" height="22" fill="#463bde"/><rect x="1387" y="741" width="24" height="22" fill="#4744e8"/><rect x="1411" y="741" width="47" height="22" fill="#4332ca"/><rect x="1458" y="741" width="24" height="22" fill="#463bde"/><rect x="1482" y="741" width="24" height="22" fill="#463adb"/><rect x="1506" y="741" width="47" height="22" fill="#4537d5"/><rect x="1553" y="741" width="48" height="22" fill="#473fe3"/><rect x="1601" y="741" width="47" height="22" fill="#4537d5"/><rect x="1648" y="741" width="47" height="22" fill="#463bde"/><rect x="1695" y="741" width="24" height="22" fill="#4537d5"/><rect x="1719" y="741" width="71" height="22" fill="#463bde"/><rect x="1790" y="741" width="24" height="22" fill="#4537d5"/><rect x="1814" y="741" width="47" height="22" fill="#463bde"/><rect x="1861" y="741" width="48" height="22" fill="#4537d5"/><rect x="1909" y="741" width="47" height="22" fill="#463bde"/><rect x="1956" y="741" width="24" height="22" fill="#4537d5"/><rect x="1980" y="741" width="23" height="22" fill="#463bde"/><rect x="2003" y="741" width="24" height="22" fill="#4744e8"/><rect x="2027" y="741" width="24" height="22" fill="#463bde"/><rect x="2051" y="741" width="23" height="22" fill="#4537d5"/><rect x="2074" y="741" width="72.3" height="22" fill="#463bde"/>
<rect x="1317" y="763" width="23" height="22" fill="#473ee1"/><rect x="1340" y="763" width="24" height="22" fill="#463bde"/><rect x="1364" y="763" width="23" height="22" fill="#4332ca"/><rect x="1387" y="763" width="24" height="22" fill="#463bde"/><rect x="1411" y="763" width="24" height="22" fill="#473fe3"/><rect x="1435" y="763" width="23" height="22" fill="#4332ca"/><rect x="1458" y="763" width="24" height="22" fill="#4537d5"/><rect x="1482" y="763" width="47" height="22" fill="#463adb"/><rect x="1529" y="763" width="48" height="22" fill="#4537d5"/><rect x="1577" y="763" width="24" height="22" fill="#473fe3"/><rect x="1601" y="763" width="23" height="22" fill="#463bde"/><rect x="1624" y="763" width="24" height="22" fill="#4537d5"/><rect x="1648" y="763" width="71" height="22" fill="#463bde"/><rect x="1719" y="763" width="24" height="22" fill="#4537d5"/><rect x="1743" y="763" width="71" height="22" fill="#463bde"/><rect x="1814" y="763" width="23" height="22" fill="#4537d5"/><rect x="1837" y="763" width="48" height="22" fill="#463bde"/><rect x="1885" y="763" width="47" height="22" fill="#4537d5"/><rect x="1932" y="763" width="48" height="22" fill="#463bde"/><rect x="1980" y="763" width="23" height="22" fill="#4537d5"/><rect x="2003" y="763" width="24" height="22" fill="#463bde"/><rect x="2027" y="763" width="24" height="22" fill="#4741e5"/><rect x="2051" y="763" width="23" height="22" fill="#463bde"/><rect x="2074" y="763" width="24" height="22" fill="#4537d5"/><rect x="2098" y="763" width="48.3" height="22" fill="#463bde"/>
<rect x="1317" y="785" width="23" height="22" fill="#4433cd"/><rect x="1340" y="785" width="24" height="22" fill="#473ee1"/><rect x="1364" y="785" width="23" height="22" fill="#463bde"/><rect x="1387" y="785" width="24" height="22" fill="#4332ca"/><rect x="1411" y="785" width="24" height="22" fill="#463bde"/><rect x="1435" y="785" width="23" height="22" fill="#473fe3"/><rect x="1458" y="785" width="24" height="22" fill="#4332ca"/><rect x="1482" y="785" width="24" height="22" fill="#4537d5"/><rect x="1506" y="785" width="23" height="22" fill="#463adb"/><rect x="1529" y="785" width="24" height="22" fill="#463bde"/><rect x="1553" y="785" width="48" height="22" fill="#4537d5"/><rect x="1601" y="785" width="23" height="22" fill="#473fe3"/><rect x="1624" y="785" width="24" height="22" fill="#463bde"/><rect x="1648" y="785" width="24" height="22" fill="#4537d5"/><rect x="1672" y="785" width="71" height="22" fill="#463bde"/><rect x="1743" y="785" width="23" height="22" fill="#4537d5"/><rect x="1766" y="785" width="71" height="22" fill="#463bde"/><rect x="1837" y="785" width="24" height="22" fill="#4537d5"/><rect x="1861" y="785" width="48" height="22" fill="#463bde"/><rect x="1909" y="785" width="23" height="22" fill="#4537d5"/><rect x="1932" y="785" width="71" height="22" fill="#463bde"/><rect x="2003" y="785" width="24" height="22" fill="#4537d5"/><rect x="2027" y="785" width="24" height="22" fill="#463bde"/><rect x="2051" y="785" width="23" height="22" fill="#4741e5"/><rect x="2074" y="785" width="24" height="22" fill="#463bde"/><rect x="2098" y="785" width="24" height="22" fill="#4537d5"/><rect x="2122" y="785" width="24.3" height="22" fill="#463bde"/>
<rect x="1317" y="807" width="23" height="22" fill="#422fc2"/><rect x="1340" y="807" width="24" height="22" fill="#4433cd"/><rect x="1364" y="807" width="23" height="22" fill="#473fe3"/><rect x="1387" y="807" width="24" height="22" fill="#463bde"/><rect x="1411" y="807" width="24" height="22" fill="#4332ca"/><rect x="1435" y="807" width="23" height="22" fill="#463bde"/><rect x="1458" y="807" width="24" height="22" fill="#473ee1"/><rect x="1482" y="807" width="47" height="22" fill="#4537d5"/><rect x="1529" y="807" width="48" height="22" fill="#463bde"/><rect x="1577" y="807" width="47" height="22" fill="#4537d5"/><rect x="1624" y="807" width="24" height="22" fill="#473fe3"/><rect x="1648" y="807" width="24" height="22" fill="#463bde"/><rect x="1672" y="807" width="47" height="22" fill="#4537d5"/><rect x="1719" y="807" width="47" height="22" fill="#463bde"/><rect x="1766" y="807" width="24" height="22" fill="#4537d5"/><rect x="1790" y="807" width="71" height="22" fill="#463bde"/><rect x="1861" y="807" width="24" height="22" fill="#4537d5"/><rect x="1885" y="807" width="47" height="22" fill="#463bde"/><rect x="1932" y="807" width="48" height="22" fill="#4537d5"/><rect x="1980" y="807" width="47" height="22" fill="#463bde"/><rect x="2027" y="807" width="24" height="22" fill="#4537d5"/><rect x="2051" y="807" width="23" height="22" fill="#463bde"/><rect x="2074" y="807" width="24" height="22" fill="#4744e8"/><rect x="2098" y="807" width="24" height="22" fill="#463bde"/><rect x="2122" y="807" width="24.3" height="22" fill="#4537d5"/>
<rect x="1317" y="829" width="23" height="22" fill="#463bde"/><rect x="1340" y="829" width="24" height="22" fill="#4330c5"/><rect x="1364" y="829" width="23" height="22" fill="#4537d5"/><rect x="1387" y="829" width="24" height="22" fill="#463ddf"/><rect x="1411" y="829" width="24" height="22" fill="#463bde"/><rect x="1435" y="829" width="23" height="22" fill="#4332ca"/><rect x="1458" y="829" width="24" height="22" fill="#463bde"/><rect x="1482" y="829" width="24" height="22" fill="#463ddf"/><rect x="1506" y="829" width="47" height="22" fill="#4537d5"/><rect x="1553" y="829" width="48" height="22" fill="#463bde"/><rect x="1601" y="829" width="47" height="22" fill="#4537d5"/><rect x="1648" y="829" width="24" height="22" fill="#473fe3"/><rect x="1672" y="829" width="23" height="22" fill="#463bde"/><rect x="1695" y="829" width="24" height="22" fill="#4537d5"/><rect x="1719" y="829" width="71" height="22" fill="#463bde"/><rect x="1790" y="829" width="24" height="22" fill="#4537d5"/><rect x="1814" y="829" width="71" height="22" fill="#463bde"/><rect x="1885" y="829" width="24" height="22" fill="#4537d5"/><rect x="1909" y="829" width="47" height="22" fill="#463bde"/><rect x="1956" y="829" width="47" height="22" fill="#4537d5"/><rect x="2003" y="829" width="48" height="22" fill="#463bde"/><rect x="2051" y="829" width="23" height="22" fill="#4537d5"/><rect x="2074" y="829" width="24" height="22" fill="#463bde"/><rect x="2098" y="829" width="24" height="22" fill="#4744e8"/><rect x="2122" y="829" width="24.3" height="22" fill="#463bde"/>
<rect x="1317" y="851" width="23" height="23.2" fill="#4744e8"/><rect x="1340" y="851" width="24" height="23.2" fill="#4537d5"/><rect x="1364" y="851" width="23" height="23.2" fill="#4332ca"/><rect x="1387" y="851" width="24" height="23.2" fill="#4537d5"/><rect x="1411" y="851" width="24" height="23.2" fill="#473ee1"/><rect x="1435" y="851" width="23" height="23.2" fill="#463bde"/><rect x="1458" y="851" width="24" height="23.2" fill="#4332ca"/><rect x="1482" y="851" width="24" height="23.2" fill="#463adb"/><rect x="1506" y="851" width="23" height="23.2" fill="#463ddf"/><rect x="1529" y="851" width="48" height="23.2" fill="#4537d5"/><rect x="1577" y="851" width="47" height="23.2" fill="#463bde"/><rect x="1624" y="851" width="48" height="23.2" fill="#4537d5"/><rect x="1672" y="851" width="23" height="23.2" fill="#473ee1"/><rect x="1695" y="851" width="24" height="23.2" fill="#463bde"/><rect x="1719" y="851" width="24" height="23.2" fill="#4537d5"/><rect x="1743" y="851" width="71" height="23.2" fill="#463bde"/><rect x="1814" y="851" width="23" height="23.2" fill="#4537d5"/><rect x="1837" y="851" width="72" height="23.2" fill="#463bde"/><rect x="1909" y="851" width="23" height="23.2" fill="#4537d5"/><rect x="1932" y="851" width="48" height="23.2" fill="#463bde"/><rect x="1980" y="851" width="23" height="23.2" fill="#4537d5"/><rect x="2003" y="851" width="71" height="23.2" fill="#463bde"/><rect x="2074" y="851" width="24" height="23.2" fill="#4537d5"/><rect x="2098" y="851" width="24" height="23.2" fill="#463bde"/><rect x="2122" y="851" width="24.3" height="23.2" fill="#4744e8"/>
</g>
<g>
<rect x="2164.6" y="103.1" width="36" height="11.9" fill="#f9fb15"/><rect x="2164.6" y="115" width="36" height="12" fill="#f7f51b"/><rect x="2164.6" y="127" width="36" height="12" fill="#f6ef20"/><rect x="2164.6" y="139" width="36" height="12" fill="#f5e924"/><rect x="2164.6" y="151" width="36" height="12" fill="#f5e327"/><rect x="2164.6" y="163" width="36" height="12" fill="#f7dd2a"/><rect x="2164.6" y="175" width="36" height="12" fill="#f9d62d"/><rect x="2164.6" y="187" width="36" height="12" fill="#fcd030"/><rect x="2164.6" y="199" width="36" height="13" fill="#feca33"/><rect x="2164.6" y="212" width="36" height="12" fill="#fec438"/><rect x="2164.6" y="224" width="36" height="12" fill="#febe3c"/><rect x="2164.6" y="236" width="36" height="12" fill="#f7ba3d"/><rect x="2164.6" y="248" width="36" height="12" fill="#efba35"/><rect x="2164.6" y="260" width="36" height="12" fill="#e6bb2d"/><rect x="2164.6" y="272" width="36" height="12" fill="#dbbd28"/><rect x="2164.6" y="284" width="36" height="12" fill="#d0bf27"/><rect x="2164.6" y="296" width="36" height="12" fill="#c5c22a"/><rect x="2164.6" y="308" width="36" height="12" fill="#b8c431"/><rect x="2164.6" y="320" width="36" height="12" fill="#abc739"/><rect x="2164.6" y="332" width="36" height="12" fill="#9dc943"/><rect x="2164.6" y="344" width="36" height="12" fill="#8fcb4e"/><rect x="2164.6" y="356" width="36" height="12" fill="#81cc59"/><rect x="2164.6" y="368" width="36" height="12" fill="#72cd64"/><rect x="2164.6" y="380" width="36" height="12" fill="#64cd6f"/><rect x="2164.6" y="392" width="36" height="12" fill="#57cc7a"/><rect x="2164.6" y="404" width="36" height="12" fill="#4bcb84"/><rect x="2164.6" y="416" width="36" height="12" fill="#40ca8d"/><rect x="2164.6" y="428" width="36" height="12" fill="#38c896"/><rect x="2164.6" y="440" width="36" height="13" fill="#32c69f"/><rect x="2164.6" y="453" width="36" height="12" fill="#2cc4a6"/><rect x="2164.6" y="465" width="36" height="12" fill="#25c2ae"/><rect x="2164.6" y="477" width="36" height="12" fill="#1ac0b5"/><rect x="2164.6" y="489" width="36" height="12" fill="#09bdbd"/><rect x="2164.6" y="501" width="36" height="12" fill="#01bac4"/><rect x="2164.6" y="513" width="36" height="12" fill="#01b7ca"/><rect x="2164.6" y="525" width="36" height="12" fill="#08b4d1"/><rect x="2164.6" y="537" width="36" height="12" fill="#12b1d6"/><rect x="2164.6" y="549" width="36" height="12" fill="#19addc"/><rect x="2164.6" y="561" width="36" height="12" fill="#1da9e0"/><rect x="2164.6" y="573" width="36" height="12" fill="#20a5e3"/><rect x="2164.6" y="585" width="36" height="12" fill="#23a0e5"/><rect x="2164.6" y="597" width="36" height="12" fill="#259be8"/><rect x="2164.6" y="609" width="36" height="12" fill="#2797eb"/><rect x="2164.6" y="621" width="36" height="12" fill="#2b91ef"/><rect x="2164.6" y="633" width="36" height="12" fill="#2d8cf3"/><rect x="2164.6" y="645" width="36" height="12" fill="#2e87f7"/><rect x="2164.6" y="657" width="36" height="12" fill="#2f82fa"/><rect x="2164.6" y="669" width="36" height="12" fill="#327cfc"/><rect x="2164.6" y="681" width="36" height="12" fill="#3876fe"/><rect x="2164.6" y="693" width="36" height="13" fill="#3e70ff"/><rect x="2164.6" y="706" width="36" height="12" fill="#426afe"/><rect x="2164.6" y="718" width="36" height="12" fill="#4564fd"/><rect x="2164.6" y="730" width="36" height="12" fill="#465efb"/><rect x="2164.6" y="742" width="36" height="12" fill="#4757f7"/><rect x="2164.6" y="754" width="36" height="12" fill="#4852f4"/><rect x="2164.6" y="766" width="36" height="12" fill="#484cf0"/><rect x="2164.6" y="778" width="36" height="12" fill="#4746eb"/><rect x="2164.6" y="790" width="36" height="12" fill="#4741e5"/><rect x="2164.6" y="802" width="36" height="12" fill="#463bde"/><rect x="2164.6" y="814" width="36" height="12" fill="#4537d5"/><rect x="2164.6" y="826" width="36" height="12" fill="#4332ca"/><rect x="2164.6" y="838" width="36" height="12" fill="#422ebf"/><rect x="2164.6" y="850" width="36" height="12" fill="#402ab4"/><rect x="2164.6" y="862" width="36" height="12.2" fill="#3e26a8"/>
</g>
<path class="l" d="M1542.10 874.20v-7.60M1542.10 103.20v7.60M1779.04 874.20v-7.60M1779.04 103.20v7.60M2015.98 874.20v-7.60M2015.98 103.20v7.60M1317.00 202.33h7.60M2146.30 202.33h-7.60M1317.00 312.47h7.60M2146.30 312.47h-7.60M1317.00 422.61h7.60M2146.30 422.61h-7.60M1317.00 532.76h7.60M2146.30 532.76h-7.60M1317.00 642.90h7.60M2146.30 642.90h-7.60M1317.00 753.04h7.60M2146.30 753.04h-7.60M1317.00 863.19h7.60M2146.30 863.19h-7.60M2200.60 816.63h-7.60M2200.60 592.95h-7.60M2200.60 369.27h-7.60M2200.60 145.60h-7.60M1317.00 103.20H2146.30V874.20H1317.00ZM2164.60 103.10H2200.60V874.20H2164.60Z"/>
<text class="t" x="1542.10" y="931.30" text-anchor="middle" textLength="50.15" lengthAdjust="spacingAndGlyphs">10</text><text class="t" x="1779.04" y="931.30" text-anchor="middle" textLength="50.15" lengthAdjust="spacingAndGlyphs">20</text><text class="t" x="2015.98" y="931.30" text-anchor="middle" textLength="50.15" lengthAdjust="spacingAndGlyphs">30</text>
<text class="t" x="1302.30" y="219.13" text-anchor="end" textLength="25.08" lengthAdjust="spacingAndGlyphs">5</text><text class="t" x="1302.30" y="329.27" text-anchor="end" textLength="50.15" lengthAdjust="spacingAndGlyphs">10</text><text class="t" x="1302.30" y="439.41" text-anchor="end" textLength="50.15" lengthAdjust="spacingAndGlyphs">15</text><text class="t" x="1302.30" y="549.56" text-anchor="end" textLength="50.15" lengthAdjust="spacingAndGlyphs">20</text><text class="t" x="1302.30" y="659.70" text-anchor="end" textLength="50.15" lengthAdjust="spacingAndGlyphs">25</text><text class="t" x="1302.30" y="769.84" text-anchor="end" textLength="50.15" lengthAdjust="spacingAndGlyphs">30</text><text class="t" x="1302.30" y="879.99" text-anchor="end" textLength="50.15" lengthAdjust="spacingAndGlyphs">35</text>
<text class="c" x="2212.20" y="833.23" textLength="22.59" lengthAdjust="spacingAndGlyphs">0</text><text class="c" x="2212.20" y="609.55" textLength="22.59" lengthAdjust="spacingAndGlyphs">5</text><text class="c" x="2212.20" y="385.87" textLength="45.18" lengthAdjust="spacingAndGlyphs">10</text><text class="c" x="2212.20" y="162.20" textLength="45.18" lengthAdjust="spacingAndGlyphs">15</text>
<text class="tt" x="1731.10" y="85.60" text-anchor="middle" letter-spacing="-0.41">PRISMA Covariance</text>
<text class="c"><tspan class="x" x="2201.00" y="93.20">×</tspan><tspan x="2229.10" y="86.60">10</tspan><tspan class="e" dx="3.00" dy="-20.60">-7</tspan></text>
</svg>
</body></html>
